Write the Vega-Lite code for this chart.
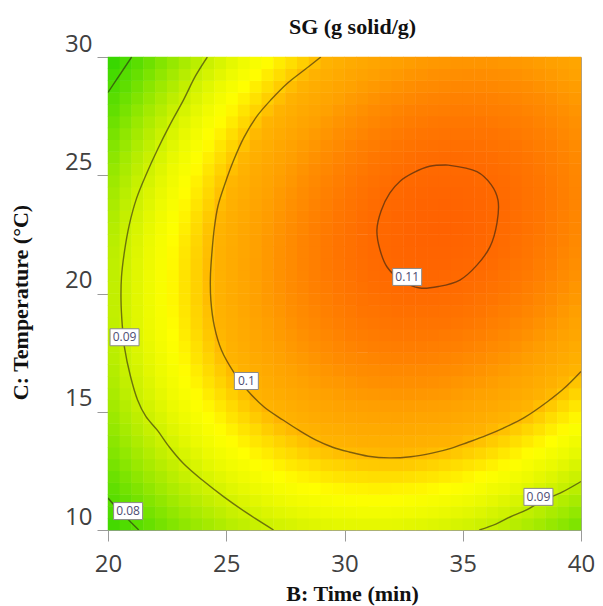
{
"$schema": "https://vega.github.io/schema/vega-lite/v6.json",
"width": 473, "height": 473,
"autosize": "none",
"padding": {"left": 108, "top": 57, "right": 22, "bottom": 76},
"background": "white",
"config": {"view": {"stroke": "#a0a0a0", "strokeWidth": 1}, "axis": {"grid": false}},
"title": {"text": "SG (g solid/g)", "font": "Liberation Serif", "fontSize": 22, "fontWeight": "bold", "color": "#111111", "baseline": "alphabetic", "offset": 0, "dx": 8, "dy": 24},
"datasets": {
"grid": [
{"time":20.25,"temp":10.25,"sg":0.0788},{"time":20.75,"temp":10.25,"sg":0.0800},{"time":21.25,"temp":10.25,"sg":0.0812},{"time":21.75,"temp":10.25,"sg":0.0824},{"time":22.25,"temp":10.25,"sg":0.0835},{"time":22.75,"temp":10.25,"sg":0.0845},{"time":23.25,"temp":10.25,"sg":0.0855},{"time":23.75,"temp":10.25,"sg":0.0864},{"time":24.25,"temp":10.25,"sg":0.0872},{"time":24.75,"temp":10.25,"sg":0.0880},{"time":25.25,"temp":10.25,"sg":0.0888},{"time":25.75,"temp":10.25,"sg":0.0894},{"time":26.25,"temp":10.25,"sg":0.0900},{"time":26.75,"temp":10.25,"sg":0.0906},{"time":27.25,"temp":10.25,"sg":0.0911},{"time":27.75,"temp":10.25,"sg":0.0915},{"time":28.25,"temp":10.25,"sg":0.0919},{"time":28.75,"temp":10.25,"sg":0.0922},{"time":29.25,"temp":10.25,"sg":0.0925},{"time":29.75,"temp":10.25,"sg":0.0927},{"time":30.25,"temp":10.25,"sg":0.0928},{"time":30.75,"temp":10.25,"sg":0.0929},{"time":31.25,"temp":10.25,"sg":0.0929},{"time":31.75,"temp":10.25,"sg":0.0929},{"time":32.25,"temp":10.25,"sg":0.0928},{"time":32.75,"temp":10.25,"sg":0.0926},{"time":33.25,"temp":10.25,"sg":0.0924},{"time":33.75,"temp":10.25,"sg":0.0921},{"time":34.25,"temp":10.25,"sg":0.0918},{"time":34.75,"temp":10.25,"sg":0.0914},{"time":35.25,"temp":10.25,"sg":0.0910},{"time":35.75,"temp":10.25,"sg":0.0905},{"time":36.25,"temp":10.25,"sg":0.0899},{"time":36.75,"temp":10.25,"sg":0.0893},{"time":37.25,"temp":10.25,"sg":0.0886},{"time":37.75,"temp":10.25,"sg":0.0878},{"time":38.25,"temp":10.25,"sg":0.0870},{"time":38.75,"temp":10.25,"sg":0.0861},{"time":39.25,"temp":10.25,"sg":0.0852},{"time":39.75,"temp":10.25,"sg":0.0842},
{"time":20.25,"temp":10.75,"sg":0.0799},{"time":20.75,"temp":10.75,"sg":0.0812},{"time":21.25,"temp":10.75,"sg":0.0824},{"time":21.75,"temp":10.75,"sg":0.0835},{"time":22.25,"temp":10.75,"sg":0.0846},{"time":22.75,"temp":10.75,"sg":0.0857},{"time":23.25,"temp":10.75,"sg":0.0867},{"time":23.75,"temp":10.75,"sg":0.0876},{"time":24.25,"temp":10.75,"sg":0.0884},{"time":24.75,"temp":10.75,"sg":0.0892},{"time":25.25,"temp":10.75,"sg":0.0900},{"time":25.75,"temp":10.75,"sg":0.0907},{"time":26.25,"temp":10.75,"sg":0.0913},{"time":26.75,"temp":10.75,"sg":0.0919},{"time":27.25,"temp":10.75,"sg":0.0924},{"time":27.75,"temp":10.75,"sg":0.0928},{"time":28.25,"temp":10.75,"sg":0.0932},{"time":28.75,"temp":10.75,"sg":0.0935},{"time":29.25,"temp":10.75,"sg":0.0938},{"time":29.75,"temp":10.75,"sg":0.0940},{"time":30.25,"temp":10.75,"sg":0.0942},{"time":30.75,"temp":10.75,"sg":0.0943},{"time":31.25,"temp":10.75,"sg":0.0943},{"time":31.75,"temp":10.75,"sg":0.0943},{"time":32.25,"temp":10.75,"sg":0.0942},{"time":32.75,"temp":10.75,"sg":0.0941},{"time":33.25,"temp":10.75,"sg":0.0939},{"time":33.75,"temp":10.75,"sg":0.0936},{"time":34.25,"temp":10.75,"sg":0.0933},{"time":34.75,"temp":10.75,"sg":0.0929},{"time":35.25,"temp":10.75,"sg":0.0925},{"time":35.75,"temp":10.75,"sg":0.0920},{"time":36.25,"temp":10.75,"sg":0.0914},{"time":36.75,"temp":10.75,"sg":0.0908},{"time":37.25,"temp":10.75,"sg":0.0901},{"time":37.75,"temp":10.75,"sg":0.0894},{"time":38.25,"temp":10.75,"sg":0.0886},{"time":38.75,"temp":10.75,"sg":0.0877},{"time":39.25,"temp":10.75,"sg":0.0868},{"time":39.75,"temp":10.75,"sg":0.0858},
{"time":20.25,"temp":11.25,"sg":0.0809},{"time":20.75,"temp":11.25,"sg":0.0822},{"time":21.25,"temp":11.25,"sg":0.0834},{"time":21.75,"temp":11.25,"sg":0.0846},{"time":22.25,"temp":11.25,"sg":0.0857},{"time":22.75,"temp":11.25,"sg":0.0868},{"time":23.25,"temp":11.25,"sg":0.0878},{"time":23.75,"temp":11.25,"sg":0.0887},{"time":24.25,"temp":11.25,"sg":0.0896},{"time":24.75,"temp":11.25,"sg":0.0904},{"time":25.25,"temp":11.25,"sg":0.0912},{"time":25.75,"temp":11.25,"sg":0.0919},{"time":26.25,"temp":11.25,"sg":0.0925},{"time":26.75,"temp":11.25,"sg":0.0931},{"time":27.25,"temp":11.25,"sg":0.0936},{"time":27.75,"temp":11.25,"sg":0.0941},{"time":28.25,"temp":11.25,"sg":0.0945},{"time":28.75,"temp":11.25,"sg":0.0948},{"time":29.25,"temp":11.25,"sg":0.0951},{"time":29.75,"temp":11.25,"sg":0.0953},{"time":30.25,"temp":11.25,"sg":0.0955},{"time":30.75,"temp":11.25,"sg":0.0956},{"time":31.25,"temp":11.25,"sg":0.0956},{"time":31.75,"temp":11.25,"sg":0.0956},{"time":32.25,"temp":11.25,"sg":0.0956},{"time":32.75,"temp":11.25,"sg":0.0954},{"time":33.25,"temp":11.25,"sg":0.0952},{"time":33.75,"temp":11.25,"sg":0.0950},{"time":34.25,"temp":11.25,"sg":0.0947},{"time":34.75,"temp":11.25,"sg":0.0943},{"time":35.25,"temp":11.25,"sg":0.0939},{"time":35.75,"temp":11.25,"sg":0.0934},{"time":36.25,"temp":11.25,"sg":0.0929},{"time":36.75,"temp":11.25,"sg":0.0922},{"time":37.25,"temp":11.25,"sg":0.0916},{"time":37.75,"temp":11.25,"sg":0.0909},{"time":38.25,"temp":11.25,"sg":0.0901},{"time":38.75,"temp":11.25,"sg":0.0892},{"time":39.25,"temp":11.25,"sg":0.0883},{"time":39.75,"temp":11.25,"sg":0.0874},
{"time":20.25,"temp":11.75,"sg":0.0819},{"time":20.75,"temp":11.75,"sg":0.0832},{"time":21.25,"temp":11.75,"sg":0.0844},{"time":21.75,"temp":11.75,"sg":0.0856},{"time":22.25,"temp":11.75,"sg":0.0868},{"time":22.75,"temp":11.75,"sg":0.0878},{"time":23.25,"temp":11.75,"sg":0.0888},{"time":23.75,"temp":11.75,"sg":0.0898},{"time":24.25,"temp":11.75,"sg":0.0907},{"time":24.75,"temp":11.75,"sg":0.0915},{"time":25.25,"temp":11.75,"sg":0.0923},{"time":25.75,"temp":11.75,"sg":0.0930},{"time":26.25,"temp":11.75,"sg":0.0936},{"time":26.75,"temp":11.75,"sg":0.0942},{"time":27.25,"temp":11.75,"sg":0.0948},{"time":27.75,"temp":11.75,"sg":0.0952},{"time":28.25,"temp":11.75,"sg":0.0957},{"time":28.75,"temp":11.75,"sg":0.0960},{"time":29.25,"temp":11.75,"sg":0.0963},{"time":29.75,"temp":11.75,"sg":0.0965},{"time":30.25,"temp":11.75,"sg":0.0967},{"time":30.75,"temp":11.75,"sg":0.0968},{"time":31.25,"temp":11.75,"sg":0.0969},{"time":31.75,"temp":11.75,"sg":0.0969},{"time":32.25,"temp":11.75,"sg":0.0968},{"time":32.75,"temp":11.75,"sg":0.0967},{"time":33.25,"temp":11.75,"sg":0.0966},{"time":33.75,"temp":11.75,"sg":0.0963},{"time":34.25,"temp":11.75,"sg":0.0960},{"time":34.75,"temp":11.75,"sg":0.0957},{"time":35.25,"temp":11.75,"sg":0.0953},{"time":35.75,"temp":11.75,"sg":0.0948},{"time":36.25,"temp":11.75,"sg":0.0942},{"time":36.75,"temp":11.75,"sg":0.0937},{"time":37.25,"temp":11.75,"sg":0.0930},{"time":37.75,"temp":11.75,"sg":0.0923},{"time":38.25,"temp":11.75,"sg":0.0915},{"time":38.75,"temp":11.75,"sg":0.0907},{"time":39.25,"temp":11.75,"sg":0.0898},{"time":39.75,"temp":11.75,"sg":0.0889},
{"time":20.25,"temp":12.25,"sg":0.0828},{"time":20.75,"temp":12.25,"sg":0.0841},{"time":21.25,"temp":12.25,"sg":0.0854},{"time":21.75,"temp":12.25,"sg":0.0866},{"time":22.25,"temp":12.25,"sg":0.0877},{"time":22.75,"temp":12.25,"sg":0.0888},{"time":23.25,"temp":12.25,"sg":0.0898},{"time":23.75,"temp":12.25,"sg":0.0908},{"time":24.25,"temp":12.25,"sg":0.0917},{"time":24.75,"temp":12.25,"sg":0.0925},{"time":25.25,"temp":12.25,"sg":0.0933},{"time":25.75,"temp":12.25,"sg":0.0940},{"time":26.25,"temp":12.25,"sg":0.0947},{"time":26.75,"temp":12.25,"sg":0.0953},{"time":27.25,"temp":12.25,"sg":0.0959},{"time":27.75,"temp":12.25,"sg":0.0964},{"time":28.25,"temp":12.25,"sg":0.0968},{"time":28.75,"temp":12.25,"sg":0.0971},{"time":29.25,"temp":12.25,"sg":0.0975},{"time":29.75,"temp":12.25,"sg":0.0977},{"time":30.25,"temp":12.25,"sg":0.0979},{"time":30.75,"temp":12.25,"sg":0.0980},{"time":31.25,"temp":12.25,"sg":0.0981},{"time":31.75,"temp":12.25,"sg":0.0981},{"time":32.25,"temp":12.25,"sg":0.0981},{"time":32.75,"temp":12.25,"sg":0.0980},{"time":33.25,"temp":12.25,"sg":0.0978},{"time":33.75,"temp":12.25,"sg":0.0976},{"time":34.25,"temp":12.25,"sg":0.0973},{"time":34.75,"temp":12.25,"sg":0.0970},{"time":35.25,"temp":12.25,"sg":0.0966},{"time":35.75,"temp":12.25,"sg":0.0961},{"time":36.25,"temp":12.25,"sg":0.0956},{"time":36.75,"temp":12.25,"sg":0.0950},{"time":37.25,"temp":12.25,"sg":0.0944},{"time":37.75,"temp":12.25,"sg":0.0937},{"time":38.25,"temp":12.25,"sg":0.0929},{"time":38.75,"temp":12.25,"sg":0.0921},{"time":39.25,"temp":12.25,"sg":0.0912},{"time":39.75,"temp":12.25,"sg":0.0903},
{"time":20.25,"temp":12.75,"sg":0.0837},{"time":20.75,"temp":12.75,"sg":0.0850},{"time":21.25,"temp":12.75,"sg":0.0863},{"time":21.75,"temp":12.75,"sg":0.0875},{"time":22.25,"temp":12.75,"sg":0.0886},{"time":22.75,"temp":12.75,"sg":0.0897},{"time":23.25,"temp":12.75,"sg":0.0908},{"time":23.75,"temp":12.75,"sg":0.0917},{"time":24.25,"temp":12.75,"sg":0.0927},{"time":24.75,"temp":12.75,"sg":0.0935},{"time":25.25,"temp":12.75,"sg":0.0943},{"time":25.75,"temp":12.75,"sg":0.0950},{"time":26.25,"temp":12.75,"sg":0.0957},{"time":26.75,"temp":12.75,"sg":0.0963},{"time":27.25,"temp":12.75,"sg":0.0969},{"time":27.75,"temp":12.75,"sg":0.0974},{"time":28.25,"temp":12.75,"sg":0.0978},{"time":28.75,"temp":12.75,"sg":0.0982},{"time":29.25,"temp":12.75,"sg":0.0986},{"time":29.75,"temp":12.75,"sg":0.0988},{"time":30.25,"temp":12.75,"sg":0.0990},{"time":30.75,"temp":12.75,"sg":0.0992},{"time":31.25,"temp":12.75,"sg":0.0993},{"time":31.75,"temp":12.75,"sg":0.0993},{"time":32.25,"temp":12.75,"sg":0.0993},{"time":32.75,"temp":12.75,"sg":0.0992},{"time":33.25,"temp":12.75,"sg":0.0990},{"time":33.75,"temp":12.75,"sg":0.0988},{"time":34.25,"temp":12.75,"sg":0.0985},{"time":34.75,"temp":12.75,"sg":0.0982},{"time":35.25,"temp":12.75,"sg":0.0978},{"time":35.75,"temp":12.75,"sg":0.0974},{"time":36.25,"temp":12.75,"sg":0.0969},{"time":36.75,"temp":12.75,"sg":0.0963},{"time":37.25,"temp":12.75,"sg":0.0957},{"time":37.75,"temp":12.75,"sg":0.0950},{"time":38.25,"temp":12.75,"sg":0.0942},{"time":38.75,"temp":12.75,"sg":0.0934},{"time":39.25,"temp":12.75,"sg":0.0926},{"time":39.75,"temp":12.75,"sg":0.0917},
{"time":20.25,"temp":13.25,"sg":0.0845},{"time":20.75,"temp":13.25,"sg":0.0858},{"time":21.25,"temp":13.25,"sg":0.0871},{"time":21.75,"temp":13.25,"sg":0.0883},{"time":22.25,"temp":13.25,"sg":0.0895},{"time":22.75,"temp":13.25,"sg":0.0906},{"time":23.25,"temp":13.25,"sg":0.0916},{"time":23.75,"temp":13.25,"sg":0.0926},{"time":24.25,"temp":13.25,"sg":0.0936},{"time":24.75,"temp":13.25,"sg":0.0944},{"time":25.25,"temp":13.25,"sg":0.0952},{"time":25.75,"temp":13.25,"sg":0.0960},{"time":26.25,"temp":13.25,"sg":0.0967},{"time":26.75,"temp":13.25,"sg":0.0973},{"time":27.25,"temp":13.25,"sg":0.0979},{"time":27.75,"temp":13.25,"sg":0.0984},{"time":28.25,"temp":13.25,"sg":0.0989},{"time":28.75,"temp":13.25,"sg":0.0993},{"time":29.25,"temp":13.25,"sg":0.0996},{"time":29.75,"temp":13.25,"sg":0.0999},{"time":30.25,"temp":13.25,"sg":0.1001},{"time":30.75,"temp":13.25,"sg":0.1002},{"time":31.25,"temp":13.25,"sg":0.1003},{"time":31.75,"temp":13.25,"sg":0.1004},{"time":32.25,"temp":13.25,"sg":0.1004},{"time":32.75,"temp":13.25,"sg":0.1003},{"time":33.25,"temp":13.25,"sg":0.1002},{"time":33.75,"temp":13.25,"sg":0.1000},{"time":34.25,"temp":13.25,"sg":0.0997},{"time":34.75,"temp":13.25,"sg":0.0994},{"time":35.25,"temp":13.25,"sg":0.0990},{"time":35.75,"temp":13.25,"sg":0.0986},{"time":36.25,"temp":13.25,"sg":0.0981},{"time":36.75,"temp":13.25,"sg":0.0975},{"time":37.25,"temp":13.25,"sg":0.0969},{"time":37.75,"temp":13.25,"sg":0.0962},{"time":38.25,"temp":13.25,"sg":0.0955},{"time":38.75,"temp":13.25,"sg":0.0947},{"time":39.25,"temp":13.25,"sg":0.0939},{"time":39.75,"temp":13.25,"sg":0.0930},
{"time":20.25,"temp":13.75,"sg":0.0852},{"time":20.75,"temp":13.75,"sg":0.0866},{"time":21.25,"temp":13.75,"sg":0.0879},{"time":21.75,"temp":13.75,"sg":0.0891},{"time":22.25,"temp":13.75,"sg":0.0903},{"time":22.75,"temp":13.75,"sg":0.0914},{"time":23.25,"temp":13.75,"sg":0.0925},{"time":23.75,"temp":13.75,"sg":0.0935},{"time":24.25,"temp":13.75,"sg":0.0944},{"time":24.75,"temp":13.75,"sg":0.0953},{"time":25.25,"temp":13.75,"sg":0.0961},{"time":25.75,"temp":13.75,"sg":0.0969},{"time":26.25,"temp":13.75,"sg":0.0976},{"time":26.75,"temp":13.75,"sg":0.0982},{"time":27.25,"temp":13.75,"sg":0.0988},{"time":27.75,"temp":13.75,"sg":0.0993},{"time":28.25,"temp":13.75,"sg":0.0998},{"time":28.75,"temp":13.75,"sg":0.1002},{"time":29.25,"temp":13.75,"sg":0.1006},{"time":29.75,"temp":13.75,"sg":0.1009},{"time":30.25,"temp":13.75,"sg":0.1011},{"time":30.75,"temp":13.75,"sg":0.1013},{"time":31.25,"temp":13.75,"sg":0.1014},{"time":31.75,"temp":13.75,"sg":0.1014},{"time":32.25,"temp":13.75,"sg":0.1014},{"time":32.75,"temp":13.75,"sg":0.1014},{"time":33.25,"temp":13.75,"sg":0.1012},{"time":33.75,"temp":13.75,"sg":0.1010},{"time":34.25,"temp":13.75,"sg":0.1008},{"time":34.75,"temp":13.75,"sg":0.1005},{"time":35.25,"temp":13.75,"sg":0.1001},{"time":35.75,"temp":13.75,"sg":0.0997},{"time":36.25,"temp":13.75,"sg":0.0992},{"time":36.75,"temp":13.75,"sg":0.0987},{"time":37.25,"temp":13.75,"sg":0.0981},{"time":37.75,"temp":13.75,"sg":0.0974},{"time":38.25,"temp":13.75,"sg":0.0967},{"time":38.75,"temp":13.75,"sg":0.0960},{"time":39.25,"temp":13.75,"sg":0.0951},{"time":39.75,"temp":13.75,"sg":0.0942},
{"time":20.25,"temp":14.25,"sg":0.0859},{"time":20.75,"temp":14.25,"sg":0.0873},{"time":21.25,"temp":14.25,"sg":0.0886},{"time":21.75,"temp":14.25,"sg":0.0898},{"time":22.25,"temp":14.25,"sg":0.0910},{"time":22.75,"temp":14.25,"sg":0.0922},{"time":23.25,"temp":14.25,"sg":0.0932},{"time":23.75,"temp":14.25,"sg":0.0942},{"time":24.25,"temp":14.25,"sg":0.0952},{"time":24.75,"temp":14.25,"sg":0.0961},{"time":25.25,"temp":14.25,"sg":0.0969},{"time":25.75,"temp":14.25,"sg":0.0977},{"time":26.25,"temp":14.25,"sg":0.0984},{"time":26.75,"temp":14.25,"sg":0.0991},{"time":27.25,"temp":14.25,"sg":0.0997},{"time":27.75,"temp":14.25,"sg":0.1002},{"time":28.25,"temp":14.25,"sg":0.1007},{"time":28.75,"temp":14.25,"sg":0.1011},{"time":29.25,"temp":14.25,"sg":0.1015},{"time":29.75,"temp":14.25,"sg":0.1018},{"time":30.25,"temp":14.25,"sg":0.1020},{"time":30.75,"temp":14.25,"sg":0.1022},{"time":31.25,"temp":14.25,"sg":0.1023},{"time":31.75,"temp":14.25,"sg":0.1024},{"time":32.25,"temp":14.25,"sg":0.1024},{"time":32.75,"temp":14.25,"sg":0.1024},{"time":33.25,"temp":14.25,"sg":0.1023},{"time":33.75,"temp":14.25,"sg":0.1021},{"time":34.25,"temp":14.25,"sg":0.1019},{"time":34.75,"temp":14.25,"sg":0.1016},{"time":35.25,"temp":14.25,"sg":0.1012},{"time":35.75,"temp":14.25,"sg":0.1008},{"time":36.25,"temp":14.25,"sg":0.1003},{"time":36.75,"temp":14.25,"sg":0.0998},{"time":37.25,"temp":14.25,"sg":0.0992},{"time":37.75,"temp":14.25,"sg":0.0986},{"time":38.25,"temp":14.25,"sg":0.0979},{"time":38.75,"temp":14.25,"sg":0.0971},{"time":39.25,"temp":14.25,"sg":0.0963},{"time":39.75,"temp":14.25,"sg":0.0954},
{"time":20.25,"temp":14.75,"sg":0.0865},{"time":20.75,"temp":14.75,"sg":0.0879},{"time":21.25,"temp":14.75,"sg":0.0892},{"time":21.75,"temp":14.75,"sg":0.0905},{"time":22.25,"temp":14.75,"sg":0.0917},{"time":22.75,"temp":14.75,"sg":0.0929},{"time":23.25,"temp":14.75,"sg":0.0939},{"time":23.75,"temp":14.75,"sg":0.0950},{"time":24.25,"temp":14.75,"sg":0.0959},{"time":24.75,"temp":14.75,"sg":0.0968},{"time":25.25,"temp":14.75,"sg":0.0977},{"time":25.75,"temp":14.75,"sg":0.0985},{"time":26.25,"temp":14.75,"sg":0.0992},{"time":26.75,"temp":14.75,"sg":0.0999},{"time":27.25,"temp":14.75,"sg":0.1005},{"time":27.75,"temp":14.75,"sg":0.1011},{"time":28.25,"temp":14.75,"sg":0.1015},{"time":28.75,"temp":14.75,"sg":0.1020},{"time":29.25,"temp":14.75,"sg":0.1024},{"time":29.75,"temp":14.75,"sg":0.1027},{"time":30.25,"temp":14.75,"sg":0.1029},{"time":30.75,"temp":14.75,"sg":0.1031},{"time":31.25,"temp":14.75,"sg":0.1033},{"time":31.75,"temp":14.75,"sg":0.1033},{"time":32.25,"temp":14.75,"sg":0.1034},{"time":32.75,"temp":14.75,"sg":0.1033},{"time":33.25,"temp":14.75,"sg":0.1032},{"time":33.75,"temp":14.75,"sg":0.1031},{"time":34.25,"temp":14.75,"sg":0.1029},{"time":34.75,"temp":14.75,"sg":0.1026},{"time":35.25,"temp":14.75,"sg":0.1022},{"time":35.75,"temp":14.75,"sg":0.1019},{"time":36.25,"temp":14.75,"sg":0.1014},{"time":36.75,"temp":14.75,"sg":0.1009},{"time":37.25,"temp":14.75,"sg":0.1003},{"time":37.75,"temp":14.75,"sg":0.0997},{"time":38.25,"temp":14.75,"sg":0.0990},{"time":38.75,"temp":14.75,"sg":0.0982},{"time":39.25,"temp":14.75,"sg":0.0974},{"time":39.75,"temp":14.75,"sg":0.0966},
{"time":20.25,"temp":15.25,"sg":0.0871},{"time":20.75,"temp":15.25,"sg":0.0885},{"time":21.25,"temp":15.25,"sg":0.0898},{"time":21.75,"temp":15.25,"sg":0.0911},{"time":22.25,"temp":15.25,"sg":0.0923},{"time":22.75,"temp":15.25,"sg":0.0935},{"time":23.25,"temp":15.25,"sg":0.0946},{"time":23.75,"temp":15.25,"sg":0.0956},{"time":24.25,"temp":15.25,"sg":0.0966},{"time":24.75,"temp":15.25,"sg":0.0975},{"time":25.25,"temp":15.25,"sg":0.0984},{"time":25.75,"temp":15.25,"sg":0.0992},{"time":26.25,"temp":15.25,"sg":0.0999},{"time":26.75,"temp":15.25,"sg":0.1006},{"time":27.25,"temp":15.25,"sg":0.1012},{"time":27.75,"temp":15.25,"sg":0.1018},{"time":28.25,"temp":15.25,"sg":0.1023},{"time":28.75,"temp":15.25,"sg":0.1028},{"time":29.25,"temp":15.25,"sg":0.1032},{"time":29.75,"temp":15.25,"sg":0.1035},{"time":30.25,"temp":15.25,"sg":0.1038},{"time":30.75,"temp":15.25,"sg":0.1040},{"time":31.25,"temp":15.25,"sg":0.1041},{"time":31.75,"temp":15.25,"sg":0.1042},{"time":32.25,"temp":15.25,"sg":0.1042},{"time":32.75,"temp":15.25,"sg":0.1042},{"time":33.25,"temp":15.25,"sg":0.1041},{"time":33.75,"temp":15.25,"sg":0.1040},{"time":34.25,"temp":15.25,"sg":0.1038},{"time":34.75,"temp":15.25,"sg":0.1035},{"time":35.25,"temp":15.25,"sg":0.1032},{"time":35.75,"temp":15.25,"sg":0.1028},{"time":36.25,"temp":15.25,"sg":0.1024},{"time":36.75,"temp":15.25,"sg":0.1019},{"time":37.25,"temp":15.25,"sg":0.1013},{"time":37.75,"temp":15.25,"sg":0.1007},{"time":38.25,"temp":15.25,"sg":0.1000},{"time":38.75,"temp":15.25,"sg":0.0993},{"time":39.25,"temp":15.25,"sg":0.0985},{"time":39.75,"temp":15.25,"sg":0.0976},
{"time":20.25,"temp":15.75,"sg":0.0876},{"time":20.75,"temp":15.75,"sg":0.0890},{"time":21.25,"temp":15.75,"sg":0.0904},{"time":21.75,"temp":15.75,"sg":0.0917},{"time":22.25,"temp":15.75,"sg":0.0929},{"time":22.75,"temp":15.75,"sg":0.0941},{"time":23.25,"temp":15.75,"sg":0.0952},{"time":23.75,"temp":15.75,"sg":0.0962},{"time":24.25,"temp":15.75,"sg":0.0972},{"time":24.75,"temp":15.75,"sg":0.0981},{"time":25.25,"temp":15.75,"sg":0.0990},{"time":25.75,"temp":15.75,"sg":0.0998},{"time":26.25,"temp":15.75,"sg":0.1006},{"time":26.75,"temp":15.75,"sg":0.1013},{"time":27.25,"temp":15.75,"sg":0.1019},{"time":27.75,"temp":15.75,"sg":0.1025},{"time":28.25,"temp":15.75,"sg":0.1030},{"time":28.75,"temp":15.75,"sg":0.1035},{"time":29.25,"temp":15.75,"sg":0.1039},{"time":29.75,"temp":15.75,"sg":0.1042},{"time":30.25,"temp":15.75,"sg":0.1045},{"time":30.75,"temp":15.75,"sg":0.1048},{"time":31.25,"temp":15.75,"sg":0.1049},{"time":31.75,"temp":15.75,"sg":0.1050},{"time":32.25,"temp":15.75,"sg":0.1051},{"time":32.75,"temp":15.75,"sg":0.1051},{"time":33.25,"temp":15.75,"sg":0.1050},{"time":33.75,"temp":15.75,"sg":0.1049},{"time":34.25,"temp":15.75,"sg":0.1047},{"time":34.75,"temp":15.75,"sg":0.1044},{"time":35.25,"temp":15.75,"sg":0.1041},{"time":35.75,"temp":15.75,"sg":0.1037},{"time":36.25,"temp":15.75,"sg":0.1033},{"time":36.75,"temp":15.75,"sg":0.1028},{"time":37.25,"temp":15.75,"sg":0.1023},{"time":37.75,"temp":15.75,"sg":0.1017},{"time":38.25,"temp":15.75,"sg":0.1010},{"time":38.75,"temp":15.75,"sg":0.1003},{"time":39.25,"temp":15.75,"sg":0.0995},{"time":39.75,"temp":15.75,"sg":0.0987},
{"time":20.25,"temp":16.25,"sg":0.0881},{"time":20.75,"temp":16.25,"sg":0.0895},{"time":21.25,"temp":16.25,"sg":0.0908},{"time":21.75,"temp":16.25,"sg":0.0921},{"time":22.25,"temp":16.25,"sg":0.0934},{"time":22.75,"temp":16.25,"sg":0.0946},{"time":23.25,"temp":16.25,"sg":0.0957},{"time":23.75,"temp":16.25,"sg":0.0968},{"time":24.25,"temp":16.25,"sg":0.0978},{"time":24.75,"temp":16.25,"sg":0.0987},{"time":25.25,"temp":16.25,"sg":0.0996},{"time":25.75,"temp":16.25,"sg":0.1004},{"time":26.25,"temp":16.25,"sg":0.1012},{"time":26.75,"temp":16.25,"sg":0.1019},{"time":27.25,"temp":16.25,"sg":0.1026},{"time":27.75,"temp":16.25,"sg":0.1032},{"time":28.25,"temp":16.25,"sg":0.1037},{"time":28.75,"temp":16.25,"sg":0.1042},{"time":29.25,"temp":16.25,"sg":0.1046},{"time":29.75,"temp":16.25,"sg":0.1049},{"time":30.25,"temp":16.25,"sg":0.1052},{"time":30.75,"temp":16.25,"sg":0.1055},{"time":31.25,"temp":16.25,"sg":0.1057},{"time":31.75,"temp":16.25,"sg":0.1058},{"time":32.25,"temp":16.25,"sg":0.1058},{"time":32.75,"temp":16.25,"sg":0.1058},{"time":33.25,"temp":16.25,"sg":0.1058},{"time":33.75,"temp":16.25,"sg":0.1057},{"time":34.25,"temp":16.25,"sg":0.1055},{"time":34.75,"temp":16.25,"sg":0.1052},{"time":35.25,"temp":16.25,"sg":0.1049},{"time":35.75,"temp":16.25,"sg":0.1046},{"time":36.25,"temp":16.25,"sg":0.1042},{"time":36.75,"temp":16.25,"sg":0.1037},{"time":37.25,"temp":16.25,"sg":0.1032},{"time":37.75,"temp":16.25,"sg":0.1026},{"time":38.25,"temp":16.25,"sg":0.1019},{"time":38.75,"temp":16.25,"sg":0.1012},{"time":39.25,"temp":16.25,"sg":0.1004},{"time":39.75,"temp":16.25,"sg":0.0996},
{"time":20.25,"temp":16.75,"sg":0.0884},{"time":20.75,"temp":16.75,"sg":0.0899},{"time":21.25,"temp":16.75,"sg":0.0912},{"time":21.75,"temp":16.75,"sg":0.0926},{"time":22.25,"temp":16.75,"sg":0.0938},{"time":22.75,"temp":16.75,"sg":0.0950},{"time":23.25,"temp":16.75,"sg":0.0962},{"time":23.75,"temp":16.75,"sg":0.0972},{"time":24.25,"temp":16.75,"sg":0.0983},{"time":24.75,"temp":16.75,"sg":0.0992},{"time":25.25,"temp":16.75,"sg":0.1001},{"time":25.75,"temp":16.75,"sg":0.1010},{"time":26.25,"temp":16.75,"sg":0.1017},{"time":26.75,"temp":16.75,"sg":0.1025},{"time":27.25,"temp":16.75,"sg":0.1031},{"time":27.75,"temp":16.75,"sg":0.1037},{"time":28.25,"temp":16.75,"sg":0.1043},{"time":28.75,"temp":16.75,"sg":0.1048},{"time":29.25,"temp":16.75,"sg":0.1052},{"time":29.75,"temp":16.75,"sg":0.1056},{"time":30.25,"temp":16.75,"sg":0.1059},{"time":30.75,"temp":16.75,"sg":0.1061},{"time":31.25,"temp":16.75,"sg":0.1063},{"time":31.75,"temp":16.75,"sg":0.1065},{"time":32.25,"temp":16.75,"sg":0.1065},{"time":32.75,"temp":16.75,"sg":0.1065},{"time":33.25,"temp":16.75,"sg":0.1065},{"time":33.75,"temp":16.75,"sg":0.1064},{"time":34.25,"temp":16.75,"sg":0.1062},{"time":34.75,"temp":16.75,"sg":0.1060},{"time":35.25,"temp":16.75,"sg":0.1057},{"time":35.75,"temp":16.75,"sg":0.1054},{"time":36.25,"temp":16.75,"sg":0.1050},{"time":36.75,"temp":16.75,"sg":0.1045},{"time":37.25,"temp":16.75,"sg":0.1040},{"time":37.75,"temp":16.75,"sg":0.1034},{"time":38.25,"temp":16.75,"sg":0.1028},{"time":38.75,"temp":16.75,"sg":0.1021},{"time":39.25,"temp":16.75,"sg":0.1013},{"time":39.75,"temp":16.75,"sg":0.1005},
{"time":20.25,"temp":17.25,"sg":0.0888},{"time":20.75,"temp":17.25,"sg":0.0902},{"time":21.25,"temp":17.25,"sg":0.0916},{"time":21.75,"temp":17.25,"sg":0.0929},{"time":22.25,"temp":17.25,"sg":0.0942},{"time":22.75,"temp":17.25,"sg":0.0954},{"time":23.25,"temp":17.25,"sg":0.0966},{"time":23.75,"temp":17.25,"sg":0.0977},{"time":24.25,"temp":17.25,"sg":0.0987},{"time":24.75,"temp":17.25,"sg":0.0997},{"time":25.25,"temp":17.25,"sg":0.1006},{"time":25.75,"temp":17.25,"sg":0.1014},{"time":26.25,"temp":17.25,"sg":0.1022},{"time":26.75,"temp":17.25,"sg":0.1030},{"time":27.25,"temp":17.25,"sg":0.1037},{"time":27.75,"temp":17.25,"sg":0.1043},{"time":28.25,"temp":17.25,"sg":0.1048},{"time":28.75,"temp":17.25,"sg":0.1053},{"time":29.25,"temp":17.25,"sg":0.1058},{"time":29.75,"temp":17.25,"sg":0.1062},{"time":30.25,"temp":17.25,"sg":0.1065},{"time":30.75,"temp":17.25,"sg":0.1067},{"time":31.25,"temp":17.25,"sg":0.1069},{"time":31.75,"temp":17.25,"sg":0.1071},{"time":32.25,"temp":17.25,"sg":0.1072},{"time":32.75,"temp":17.25,"sg":0.1072},{"time":33.25,"temp":17.25,"sg":0.1072},{"time":33.75,"temp":17.25,"sg":0.1071},{"time":34.25,"temp":17.25,"sg":0.1069},{"time":34.75,"temp":17.25,"sg":0.1067},{"time":35.25,"temp":17.25,"sg":0.1064},{"time":35.75,"temp":17.25,"sg":0.1061},{"time":36.25,"temp":17.25,"sg":0.1057},{"time":36.75,"temp":17.25,"sg":0.1053},{"time":37.25,"temp":17.25,"sg":0.1048},{"time":37.75,"temp":17.25,"sg":0.1042},{"time":38.25,"temp":17.25,"sg":0.1036},{"time":38.75,"temp":17.25,"sg":0.1029},{"time":39.25,"temp":17.25,"sg":0.1022},{"time":39.75,"temp":17.25,"sg":0.1014},
{"time":20.25,"temp":17.75,"sg":0.0890},{"time":20.75,"temp":17.75,"sg":0.0905},{"time":21.25,"temp":17.75,"sg":0.0919},{"time":21.75,"temp":17.75,"sg":0.0932},{"time":22.25,"temp":17.75,"sg":0.0945},{"time":22.75,"temp":17.75,"sg":0.0957},{"time":23.25,"temp":17.75,"sg":0.0969},{"time":23.75,"temp":17.75,"sg":0.0980},{"time":24.25,"temp":17.75,"sg":0.0991},{"time":24.75,"temp":17.75,"sg":0.1001},{"time":25.25,"temp":17.75,"sg":0.1010},{"time":25.75,"temp":17.75,"sg":0.1019},{"time":26.25,"temp":17.75,"sg":0.1027},{"time":26.75,"temp":17.75,"sg":0.1034},{"time":27.25,"temp":17.75,"sg":0.1041},{"time":27.75,"temp":17.75,"sg":0.1047},{"time":28.25,"temp":17.75,"sg":0.1053},{"time":28.75,"temp":17.75,"sg":0.1058},{"time":29.25,"temp":17.75,"sg":0.1063},{"time":29.75,"temp":17.75,"sg":0.1067},{"time":30.25,"temp":17.75,"sg":0.1070},{"time":30.75,"temp":17.75,"sg":0.1073},{"time":31.25,"temp":17.75,"sg":0.1075},{"time":31.75,"temp":17.75,"sg":0.1077},{"time":32.25,"temp":17.75,"sg":0.1078},{"time":32.75,"temp":17.75,"sg":0.1078},{"time":33.25,"temp":17.75,"sg":0.1078},{"time":33.75,"temp":17.75,"sg":0.1077},{"time":34.25,"temp":17.75,"sg":0.1076},{"time":34.75,"temp":17.75,"sg":0.1074},{"time":35.25,"temp":17.75,"sg":0.1071},{"time":35.75,"temp":17.75,"sg":0.1068},{"time":36.25,"temp":17.75,"sg":0.1064},{"time":36.75,"temp":17.75,"sg":0.1060},{"time":37.25,"temp":17.75,"sg":0.1055},{"time":37.75,"temp":17.75,"sg":0.1049},{"time":38.25,"temp":17.75,"sg":0.1043},{"time":38.75,"temp":17.75,"sg":0.1037},{"time":39.25,"temp":17.75,"sg":0.1029},{"time":39.75,"temp":17.75,"sg":0.1021},
{"time":20.25,"temp":18.25,"sg":0.0892},{"time":20.75,"temp":18.25,"sg":0.0907},{"time":21.25,"temp":18.25,"sg":0.0921},{"time":21.75,"temp":18.25,"sg":0.0935},{"time":22.25,"temp":18.25,"sg":0.0948},{"time":22.75,"temp":18.25,"sg":0.0960},{"time":23.25,"temp":18.25,"sg":0.0972},{"time":23.75,"temp":18.25,"sg":0.0983},{"time":24.25,"temp":18.25,"sg":0.0994},{"time":24.75,"temp":18.25,"sg":0.1004},{"time":25.25,"temp":18.25,"sg":0.1013},{"time":25.75,"temp":18.25,"sg":0.1022},{"time":26.25,"temp":18.25,"sg":0.1030},{"time":26.75,"temp":18.25,"sg":0.1038},{"time":27.25,"temp":18.25,"sg":0.1045},{"time":27.75,"temp":18.25,"sg":0.1051},{"time":28.25,"temp":18.25,"sg":0.1057},{"time":28.75,"temp":18.25,"sg":0.1063},{"time":29.25,"temp":18.25,"sg":0.1067},{"time":29.75,"temp":18.25,"sg":0.1071},{"time":30.25,"temp":18.25,"sg":0.1075},{"time":30.75,"temp":18.25,"sg":0.1078},{"time":31.25,"temp":18.25,"sg":0.1080},{"time":31.75,"temp":18.25,"sg":0.1082},{"time":32.25,"temp":18.25,"sg":0.1083},{"time":32.75,"temp":18.25,"sg":0.1083},{"time":33.25,"temp":18.25,"sg":0.1083},{"time":33.75,"temp":18.25,"sg":0.1083},{"time":34.25,"temp":18.25,"sg":0.1081},{"time":34.75,"temp":18.25,"sg":0.1080},{"time":35.25,"temp":18.25,"sg":0.1077},{"time":35.75,"temp":18.25,"sg":0.1074},{"time":36.25,"temp":18.25,"sg":0.1070},{"time":36.75,"temp":18.25,"sg":0.1066},{"time":37.25,"temp":18.25,"sg":0.1061},{"time":37.75,"temp":18.25,"sg":0.1056},{"time":38.25,"temp":18.25,"sg":0.1050},{"time":38.75,"temp":18.25,"sg":0.1043},{"time":39.25,"temp":18.25,"sg":0.1036},{"time":39.75,"temp":18.25,"sg":0.1029},
{"time":20.25,"temp":18.75,"sg":0.0894},{"time":20.75,"temp":18.75,"sg":0.0909},{"time":21.25,"temp":18.75,"sg":0.0923},{"time":21.75,"temp":18.75,"sg":0.0937},{"time":22.25,"temp":18.75,"sg":0.0950},{"time":22.75,"temp":18.75,"sg":0.0962},{"time":23.25,"temp":18.75,"sg":0.0974},{"time":23.75,"temp":18.75,"sg":0.0986},{"time":24.25,"temp":18.75,"sg":0.0996},{"time":24.75,"temp":18.75,"sg":0.1006},{"time":25.25,"temp":18.75,"sg":0.1016},{"time":25.75,"temp":18.75,"sg":0.1025},{"time":26.25,"temp":18.75,"sg":0.1033},{"time":26.75,"temp":18.75,"sg":0.1041},{"time":27.25,"temp":18.75,"sg":0.1048},{"time":27.75,"temp":18.75,"sg":0.1055},{"time":28.25,"temp":18.75,"sg":0.1061},{"time":28.75,"temp":18.75,"sg":0.1066},{"time":29.25,"temp":18.75,"sg":0.1071},{"time":29.75,"temp":18.75,"sg":0.1075},{"time":30.25,"temp":18.75,"sg":0.1079},{"time":30.75,"temp":18.75,"sg":0.1082},{"time":31.25,"temp":18.75,"sg":0.1084},{"time":31.75,"temp":18.75,"sg":0.1086},{"time":32.25,"temp":18.75,"sg":0.1087},{"time":32.75,"temp":18.75,"sg":0.1088},{"time":33.25,"temp":18.75,"sg":0.1088},{"time":33.75,"temp":18.75,"sg":0.1088},{"time":34.25,"temp":18.75,"sg":0.1087},{"time":34.75,"temp":18.75,"sg":0.1085},{"time":35.25,"temp":18.75,"sg":0.1083},{"time":35.75,"temp":18.75,"sg":0.1080},{"time":36.25,"temp":18.75,"sg":0.1076},{"time":36.75,"temp":18.75,"sg":0.1072},{"time":37.25,"temp":18.75,"sg":0.1067},{"time":37.75,"temp":18.75,"sg":0.1062},{"time":38.25,"temp":18.75,"sg":0.1056},{"time":38.75,"temp":18.75,"sg":0.1050},{"time":39.25,"temp":18.75,"sg":0.1043},{"time":39.75,"temp":18.75,"sg":0.1035},
{"time":20.25,"temp":19.25,"sg":0.0895},{"time":20.75,"temp":19.25,"sg":0.0910},{"time":21.25,"temp":19.25,"sg":0.0924},{"time":21.75,"temp":19.25,"sg":0.0938},{"time":22.25,"temp":19.25,"sg":0.0951},{"time":22.75,"temp":19.25,"sg":0.0964},{"time":23.25,"temp":19.25,"sg":0.0976},{"time":23.75,"temp":19.25,"sg":0.0987},{"time":24.25,"temp":19.25,"sg":0.0998},{"time":24.75,"temp":19.25,"sg":0.1009},{"time":25.25,"temp":19.25,"sg":0.1018},{"time":25.75,"temp":19.25,"sg":0.1027},{"time":26.25,"temp":19.25,"sg":0.1036},{"time":26.75,"temp":19.25,"sg":0.1044},{"time":27.25,"temp":19.25,"sg":0.1051},{"time":27.75,"temp":19.25,"sg":0.1058},{"time":28.25,"temp":19.25,"sg":0.1064},{"time":28.75,"temp":19.25,"sg":0.1069},{"time":29.25,"temp":19.25,"sg":0.1074},{"time":29.75,"temp":19.25,"sg":0.1079},{"time":30.25,"temp":19.25,"sg":0.1082},{"time":30.75,"temp":19.25,"sg":0.1086},{"time":31.25,"temp":19.25,"sg":0.1088},{"time":31.75,"temp":19.25,"sg":0.1090},{"time":32.25,"temp":19.25,"sg":0.1092},{"time":32.75,"temp":19.25,"sg":0.1092},{"time":33.25,"temp":19.25,"sg":0.1092},{"time":33.75,"temp":19.25,"sg":0.1092},{"time":34.25,"temp":19.25,"sg":0.1091},{"time":34.75,"temp":19.25,"sg":0.1090},{"time":35.25,"temp":19.25,"sg":0.1087},{"time":35.75,"temp":19.25,"sg":0.1085},{"time":36.25,"temp":19.25,"sg":0.1081},{"time":36.75,"temp":19.25,"sg":0.1077},{"time":37.25,"temp":19.25,"sg":0.1073},{"time":37.75,"temp":19.25,"sg":0.1068},{"time":38.25,"temp":19.25,"sg":0.1062},{"time":38.75,"temp":19.25,"sg":0.1056},{"time":39.25,"temp":19.25,"sg":0.1049},{"time":39.75,"temp":19.25,"sg":0.1041},
{"time":20.25,"temp":19.75,"sg":0.0895},{"time":20.75,"temp":19.75,"sg":0.0910},{"time":21.25,"temp":19.75,"sg":0.0925},{"time":21.75,"temp":19.75,"sg":0.0939},{"time":22.25,"temp":19.75,"sg":0.0952},{"time":22.75,"temp":19.75,"sg":0.0965},{"time":23.25,"temp":19.75,"sg":0.0977},{"time":23.75,"temp":19.75,"sg":0.0989},{"time":24.25,"temp":19.75,"sg":0.1000},{"time":24.75,"temp":19.75,"sg":0.1010},{"time":25.25,"temp":19.75,"sg":0.1020},{"time":25.75,"temp":19.75,"sg":0.1029},{"time":26.25,"temp":19.75,"sg":0.1038},{"time":26.75,"temp":19.75,"sg":0.1046},{"time":27.25,"temp":19.75,"sg":0.1053},{"time":27.75,"temp":19.75,"sg":0.1060},{"time":28.25,"temp":19.75,"sg":0.1066},{"time":28.75,"temp":19.75,"sg":0.1072},{"time":29.25,"temp":19.75,"sg":0.1077},{"time":29.75,"temp":19.75,"sg":0.1082},{"time":30.25,"temp":19.75,"sg":0.1085},{"time":30.75,"temp":19.75,"sg":0.1089},{"time":31.25,"temp":19.75,"sg":0.1091},{"time":31.75,"temp":19.75,"sg":0.1093},{"time":32.25,"temp":19.75,"sg":0.1095},{"time":32.75,"temp":19.75,"sg":0.1096},{"time":33.25,"temp":19.75,"sg":0.1096},{"time":33.75,"temp":19.75,"sg":0.1096},{"time":34.25,"temp":19.75,"sg":0.1095},{"time":34.75,"temp":19.75,"sg":0.1094},{"time":35.25,"temp":19.75,"sg":0.1092},{"time":35.75,"temp":19.75,"sg":0.1089},{"time":36.25,"temp":19.75,"sg":0.1086},{"time":36.75,"temp":19.75,"sg":0.1082},{"time":37.25,"temp":19.75,"sg":0.1078},{"time":37.75,"temp":19.75,"sg":0.1073},{"time":38.25,"temp":19.75,"sg":0.1067},{"time":38.75,"temp":19.75,"sg":0.1061},{"time":39.25,"temp":19.75,"sg":0.1054},{"time":39.75,"temp":19.75,"sg":0.1047},
{"time":20.25,"temp":20.25,"sg":0.0895},{"time":20.75,"temp":20.25,"sg":0.0910},{"time":21.25,"temp":20.25,"sg":0.0925},{"time":21.75,"temp":20.25,"sg":0.0939},{"time":22.25,"temp":20.25,"sg":0.0952},{"time":22.75,"temp":20.25,"sg":0.0965},{"time":23.25,"temp":20.25,"sg":0.0978},{"time":23.75,"temp":20.25,"sg":0.0989},{"time":24.25,"temp":20.25,"sg":0.1000},{"time":24.75,"temp":20.25,"sg":0.1011},{"time":25.25,"temp":20.25,"sg":0.1021},{"time":25.75,"temp":20.25,"sg":0.1030},{"time":26.25,"temp":20.25,"sg":0.1039},{"time":26.75,"temp":20.25,"sg":0.1047},{"time":27.25,"temp":20.25,"sg":0.1055},{"time":27.75,"temp":20.25,"sg":0.1062},{"time":28.25,"temp":20.25,"sg":0.1068},{"time":28.75,"temp":20.25,"sg":0.1074},{"time":29.25,"temp":20.25,"sg":0.1079},{"time":29.75,"temp":20.25,"sg":0.1084},{"time":30.25,"temp":20.25,"sg":0.1088},{"time":30.75,"temp":20.25,"sg":0.1091},{"time":31.25,"temp":20.25,"sg":0.1094},{"time":31.75,"temp":20.25,"sg":0.1096},{"time":32.25,"temp":20.25,"sg":0.1098},{"time":32.75,"temp":20.25,"sg":0.1099},{"time":33.25,"temp":20.25,"sg":0.1099},{"time":33.75,"temp":20.25,"sg":0.1099},{"time":34.25,"temp":20.25,"sg":0.1098},{"time":34.75,"temp":20.25,"sg":0.1097},{"time":35.25,"temp":20.25,"sg":0.1095},{"time":35.75,"temp":20.25,"sg":0.1093},{"time":36.25,"temp":20.25,"sg":0.1090},{"time":36.75,"temp":20.25,"sg":0.1086},{"time":37.25,"temp":20.25,"sg":0.1082},{"time":37.75,"temp":20.25,"sg":0.1077},{"time":38.25,"temp":20.25,"sg":0.1071},{"time":38.75,"temp":20.25,"sg":0.1065},{"time":39.25,"temp":20.25,"sg":0.1059},{"time":39.75,"temp":20.25,"sg":0.1051},
{"time":20.25,"temp":20.75,"sg":0.0894},{"time":20.75,"temp":20.75,"sg":0.0910},{"time":21.25,"temp":20.75,"sg":0.0924},{"time":21.75,"temp":20.75,"sg":0.0939},{"time":22.25,"temp":20.75,"sg":0.0952},{"time":22.75,"temp":20.75,"sg":0.0965},{"time":23.25,"temp":20.75,"sg":0.0978},{"time":23.75,"temp":20.75,"sg":0.0989},{"time":24.25,"temp":20.75,"sg":0.1001},{"time":24.75,"temp":20.75,"sg":0.1011},{"time":25.25,"temp":20.75,"sg":0.1021},{"time":25.75,"temp":20.75,"sg":0.1031},{"time":26.25,"temp":20.75,"sg":0.1040},{"time":26.75,"temp":20.75,"sg":0.1048},{"time":27.25,"temp":20.75,"sg":0.1056},{"time":27.75,"temp":20.75,"sg":0.1063},{"time":28.25,"temp":20.75,"sg":0.1069},{"time":28.75,"temp":20.75,"sg":0.1075},{"time":29.25,"temp":20.75,"sg":0.1081},{"time":29.75,"temp":20.75,"sg":0.1085},{"time":30.25,"temp":20.75,"sg":0.1089},{"time":30.75,"temp":20.75,"sg":0.1093},{"time":31.25,"temp":20.75,"sg":0.1096},{"time":31.75,"temp":20.75,"sg":0.1098},{"time":32.25,"temp":20.75,"sg":0.1100},{"time":32.75,"temp":20.75,"sg":0.1101},{"time":33.25,"temp":20.75,"sg":0.1102},{"time":33.75,"temp":20.75,"sg":0.1102},{"time":34.25,"temp":20.75,"sg":0.1101},{"time":34.75,"temp":20.75,"sg":0.1100},{"time":35.25,"temp":20.75,"sg":0.1098},{"time":35.75,"temp":20.75,"sg":0.1096},{"time":36.25,"temp":20.75,"sg":0.1093},{"time":36.75,"temp":20.75,"sg":0.1089},{"time":37.25,"temp":20.75,"sg":0.1085},{"time":37.75,"temp":20.75,"sg":0.1081},{"time":38.25,"temp":20.75,"sg":0.1075},{"time":38.75,"temp":20.75,"sg":0.1069},{"time":39.25,"temp":20.75,"sg":0.1063},{"time":39.75,"temp":20.75,"sg":0.1056},
{"time":20.25,"temp":21.25,"sg":0.0893},{"time":20.75,"temp":21.25,"sg":0.0908},{"time":21.25,"temp":21.25,"sg":0.0923},{"time":21.75,"temp":21.25,"sg":0.0937},{"time":22.25,"temp":21.25,"sg":0.0951},{"time":22.75,"temp":21.25,"sg":0.0964},{"time":23.25,"temp":21.25,"sg":0.0977},{"time":23.75,"temp":21.25,"sg":0.0989},{"time":24.25,"temp":21.25,"sg":0.1000},{"time":24.75,"temp":21.25,"sg":0.1011},{"time":25.25,"temp":21.25,"sg":0.1021},{"time":25.75,"temp":21.25,"sg":0.1031},{"time":26.25,"temp":21.25,"sg":0.1040},{"time":26.75,"temp":21.25,"sg":0.1048},{"time":27.25,"temp":21.25,"sg":0.1056},{"time":27.75,"temp":21.25,"sg":0.1063},{"time":28.25,"temp":21.25,"sg":0.1070},{"time":28.75,"temp":21.25,"sg":0.1076},{"time":29.25,"temp":21.25,"sg":0.1082},{"time":29.75,"temp":21.25,"sg":0.1086},{"time":30.25,"temp":21.25,"sg":0.1091},{"time":30.75,"temp":21.25,"sg":0.1094},{"time":31.25,"temp":21.25,"sg":0.1097},{"time":31.75,"temp":21.25,"sg":0.1100},{"time":32.25,"temp":21.25,"sg":0.1102},{"time":32.75,"temp":21.25,"sg":0.1103},{"time":33.25,"temp":21.25,"sg":0.1104},{"time":33.75,"temp":21.25,"sg":0.1104},{"time":34.25,"temp":21.25,"sg":0.1104},{"time":34.75,"temp":21.25,"sg":0.1102},{"time":35.25,"temp":21.25,"sg":0.1101},{"time":35.75,"temp":21.25,"sg":0.1099},{"time":36.25,"temp":21.25,"sg":0.1096},{"time":36.75,"temp":21.25,"sg":0.1092},{"time":37.25,"temp":21.25,"sg":0.1088},{"time":37.75,"temp":21.25,"sg":0.1084},{"time":38.25,"temp":21.25,"sg":0.1078},{"time":38.75,"temp":21.25,"sg":0.1073},{"time":39.25,"temp":21.25,"sg":0.1066},{"time":39.75,"temp":21.25,"sg":0.1059},
{"time":20.25,"temp":21.75,"sg":0.0891},{"time":20.75,"temp":21.75,"sg":0.0906},{"time":21.25,"temp":21.75,"sg":0.0921},{"time":21.75,"temp":21.75,"sg":0.0936},{"time":22.25,"temp":21.75,"sg":0.0950},{"time":22.75,"temp":21.75,"sg":0.0963},{"time":23.25,"temp":21.75,"sg":0.0976},{"time":23.75,"temp":21.75,"sg":0.0988},{"time":24.25,"temp":21.75,"sg":0.0999},{"time":24.75,"temp":21.75,"sg":0.1010},{"time":25.25,"temp":21.75,"sg":0.1021},{"time":25.75,"temp":21.75,"sg":0.1030},{"time":26.25,"temp":21.75,"sg":0.1039},{"time":26.75,"temp":21.75,"sg":0.1048},{"time":27.25,"temp":21.75,"sg":0.1056},{"time":27.75,"temp":21.75,"sg":0.1063},{"time":28.25,"temp":21.75,"sg":0.1070},{"time":28.75,"temp":21.75,"sg":0.1076},{"time":29.25,"temp":21.75,"sg":0.1082},{"time":29.75,"temp":21.75,"sg":0.1087},{"time":30.25,"temp":21.75,"sg":0.1091},{"time":30.75,"temp":21.75,"sg":0.1095},{"time":31.25,"temp":21.75,"sg":0.1098},{"time":31.75,"temp":21.75,"sg":0.1101},{"time":32.25,"temp":21.75,"sg":0.1103},{"time":32.75,"temp":21.75,"sg":0.1104},{"time":33.25,"temp":21.75,"sg":0.1105},{"time":33.75,"temp":21.75,"sg":0.1105},{"time":34.25,"temp":21.75,"sg":0.1105},{"time":34.75,"temp":21.75,"sg":0.1104},{"time":35.25,"temp":21.75,"sg":0.1103},{"time":35.75,"temp":21.75,"sg":0.1101},{"time":36.25,"temp":21.75,"sg":0.1098},{"time":36.75,"temp":21.75,"sg":0.1095},{"time":37.25,"temp":21.75,"sg":0.1091},{"time":37.75,"temp":21.75,"sg":0.1086},{"time":38.25,"temp":21.75,"sg":0.1081},{"time":38.75,"temp":21.75,"sg":0.1075},{"time":39.25,"temp":21.75,"sg":0.1069},{"time":39.75,"temp":21.75,"sg":0.1062},
{"time":20.25,"temp":22.25,"sg":0.0888},{"time":20.75,"temp":22.25,"sg":0.0904},{"time":21.25,"temp":22.25,"sg":0.0919},{"time":21.75,"temp":22.25,"sg":0.0934},{"time":22.25,"temp":22.25,"sg":0.0948},{"time":22.75,"temp":22.25,"sg":0.0961},{"time":23.25,"temp":22.25,"sg":0.0974},{"time":23.75,"temp":22.25,"sg":0.0986},{"time":24.25,"temp":22.25,"sg":0.0998},{"time":24.75,"temp":22.25,"sg":0.1009},{"time":25.25,"temp":22.25,"sg":0.1019},{"time":25.75,"temp":22.25,"sg":0.1029},{"time":26.25,"temp":22.25,"sg":0.1038},{"time":26.75,"temp":22.25,"sg":0.1047},{"time":27.25,"temp":22.25,"sg":0.1055},{"time":27.75,"temp":22.25,"sg":0.1063},{"time":28.25,"temp":22.25,"sg":0.1070},{"time":28.75,"temp":22.25,"sg":0.1076},{"time":29.25,"temp":22.25,"sg":0.1082},{"time":29.75,"temp":22.25,"sg":0.1087},{"time":30.25,"temp":22.25,"sg":0.1091},{"time":30.75,"temp":22.25,"sg":0.1095},{"time":31.25,"temp":22.25,"sg":0.1098},{"time":31.75,"temp":22.25,"sg":0.1101},{"time":32.25,"temp":22.25,"sg":0.1103},{"time":32.75,"temp":22.25,"sg":0.1105},{"time":33.25,"temp":22.25,"sg":0.1106},{"time":33.75,"temp":22.25,"sg":0.1106},{"time":34.25,"temp":22.25,"sg":0.1106},{"time":34.75,"temp":22.25,"sg":0.1105},{"time":35.25,"temp":22.25,"sg":0.1104},{"time":35.75,"temp":22.25,"sg":0.1102},{"time":36.25,"temp":22.25,"sg":0.1099},{"time":36.75,"temp":22.25,"sg":0.1096},{"time":37.25,"temp":22.25,"sg":0.1092},{"time":37.75,"temp":22.25,"sg":0.1088},{"time":38.25,"temp":22.25,"sg":0.1083},{"time":38.75,"temp":22.25,"sg":0.1078},{"time":39.25,"temp":22.25,"sg":0.1072},{"time":39.75,"temp":22.25,"sg":0.1065},
{"time":20.25,"temp":22.75,"sg":0.0885},{"time":20.75,"temp":22.75,"sg":0.0901},{"time":21.25,"temp":22.75,"sg":0.0916},{"time":21.75,"temp":22.75,"sg":0.0931},{"time":22.25,"temp":22.75,"sg":0.0945},{"time":22.75,"temp":22.75,"sg":0.0958},{"time":23.25,"temp":22.75,"sg":0.0971},{"time":23.75,"temp":22.75,"sg":0.0984},{"time":24.25,"temp":22.75,"sg":0.0996},{"time":24.75,"temp":22.75,"sg":0.1007},{"time":25.25,"temp":22.75,"sg":0.1017},{"time":25.75,"temp":22.75,"sg":0.1027},{"time":26.25,"temp":22.75,"sg":0.1037},{"time":26.75,"temp":22.75,"sg":0.1045},{"time":27.25,"temp":22.75,"sg":0.1054},{"time":27.75,"temp":22.75,"sg":0.1061},{"time":28.25,"temp":22.75,"sg":0.1068},{"time":28.75,"temp":22.75,"sg":0.1075},{"time":29.25,"temp":22.75,"sg":0.1081},{"time":29.75,"temp":22.75,"sg":0.1086},{"time":30.25,"temp":22.75,"sg":0.1091},{"time":30.75,"temp":22.75,"sg":0.1095},{"time":31.25,"temp":22.75,"sg":0.1098},{"time":31.75,"temp":22.75,"sg":0.1101},{"time":32.25,"temp":22.75,"sg":0.1103},{"time":32.75,"temp":22.75,"sg":0.1105},{"time":33.25,"temp":22.75,"sg":0.1106},{"time":33.75,"temp":22.75,"sg":0.1107},{"time":34.25,"temp":22.75,"sg":0.1107},{"time":34.75,"temp":22.75,"sg":0.1106},{"time":35.25,"temp":22.75,"sg":0.1105},{"time":35.75,"temp":22.75,"sg":0.1103},{"time":36.25,"temp":22.75,"sg":0.1100},{"time":36.75,"temp":22.75,"sg":0.1097},{"time":37.25,"temp":22.75,"sg":0.1094},{"time":37.75,"temp":22.75,"sg":0.1090},{"time":38.25,"temp":22.75,"sg":0.1085},{"time":38.75,"temp":22.75,"sg":0.1079},{"time":39.25,"temp":22.75,"sg":0.1073},{"time":39.75,"temp":22.75,"sg":0.1067},
{"time":20.25,"temp":23.25,"sg":0.0881},{"time":20.75,"temp":23.25,"sg":0.0897},{"time":21.25,"temp":23.25,"sg":0.0912},{"time":21.75,"temp":23.25,"sg":0.0927},{"time":22.25,"temp":23.25,"sg":0.0942},{"time":22.75,"temp":23.25,"sg":0.0955},{"time":23.25,"temp":23.25,"sg":0.0968},{"time":23.75,"temp":23.25,"sg":0.0981},{"time":24.25,"temp":23.25,"sg":0.0993},{"time":24.75,"temp":23.25,"sg":0.1004},{"time":25.25,"temp":23.25,"sg":0.1015},{"time":25.75,"temp":23.25,"sg":0.1025},{"time":26.25,"temp":23.25,"sg":0.1034},{"time":26.75,"temp":23.25,"sg":0.1043},{"time":27.25,"temp":23.25,"sg":0.1052},{"time":27.75,"temp":23.25,"sg":0.1059},{"time":28.25,"temp":23.25,"sg":0.1067},{"time":28.75,"temp":23.25,"sg":0.1073},{"time":29.25,"temp":23.25,"sg":0.1079},{"time":29.75,"temp":23.25,"sg":0.1085},{"time":30.25,"temp":23.25,"sg":0.1089},{"time":30.75,"temp":23.25,"sg":0.1094},{"time":31.25,"temp":23.25,"sg":0.1097},{"time":31.75,"temp":23.25,"sg":0.1100},{"time":32.25,"temp":23.25,"sg":0.1103},{"time":32.75,"temp":23.25,"sg":0.1104},{"time":33.25,"temp":23.25,"sg":0.1106},{"time":33.75,"temp":23.25,"sg":0.1106},{"time":34.25,"temp":23.25,"sg":0.1106},{"time":34.75,"temp":23.25,"sg":0.1106},{"time":35.25,"temp":23.25,"sg":0.1105},{"time":35.75,"temp":23.25,"sg":0.1103},{"time":36.25,"temp":23.25,"sg":0.1101},{"time":36.75,"temp":23.25,"sg":0.1098},{"time":37.25,"temp":23.25,"sg":0.1094},{"time":37.75,"temp":23.25,"sg":0.1090},{"time":38.25,"temp":23.25,"sg":0.1086},{"time":38.75,"temp":23.25,"sg":0.1080},{"time":39.25,"temp":23.25,"sg":0.1074},{"time":39.75,"temp":23.25,"sg":0.1068},
{"time":20.25,"temp":23.75,"sg":0.0877},{"time":20.75,"temp":23.75,"sg":0.0893},{"time":21.25,"temp":23.75,"sg":0.0908},{"time":21.75,"temp":23.75,"sg":0.0923},{"time":22.25,"temp":23.75,"sg":0.0938},{"time":22.75,"temp":23.75,"sg":0.0951},{"time":23.25,"temp":23.75,"sg":0.0965},{"time":23.75,"temp":23.75,"sg":0.0977},{"time":24.25,"temp":23.75,"sg":0.0989},{"time":24.75,"temp":23.75,"sg":0.1001},{"time":25.25,"temp":23.75,"sg":0.1012},{"time":25.75,"temp":23.75,"sg":0.1022},{"time":26.25,"temp":23.75,"sg":0.1032},{"time":26.75,"temp":23.75,"sg":0.1041},{"time":27.25,"temp":23.75,"sg":0.1049},{"time":27.75,"temp":23.75,"sg":0.1057},{"time":28.25,"temp":23.75,"sg":0.1064},{"time":28.75,"temp":23.75,"sg":0.1071},{"time":29.25,"temp":23.75,"sg":0.1077},{"time":29.75,"temp":23.75,"sg":0.1083},{"time":30.25,"temp":23.75,"sg":0.1088},{"time":30.75,"temp":23.75,"sg":0.1092},{"time":31.25,"temp":23.75,"sg":0.1096},{"time":31.75,"temp":23.75,"sg":0.1099},{"time":32.25,"temp":23.75,"sg":0.1101},{"time":32.75,"temp":23.75,"sg":0.1103},{"time":33.25,"temp":23.75,"sg":0.1105},{"time":33.75,"temp":23.75,"sg":0.1105},{"time":34.25,"temp":23.75,"sg":0.1106},{"time":34.75,"temp":23.75,"sg":0.1105},{"time":35.25,"temp":23.75,"sg":0.1104},{"time":35.75,"temp":23.75,"sg":0.1103},{"time":36.25,"temp":23.75,"sg":0.1100},{"time":36.75,"temp":23.75,"sg":0.1098},{"time":37.25,"temp":23.75,"sg":0.1094},{"time":37.75,"temp":23.75,"sg":0.1090},{"time":38.25,"temp":23.75,"sg":0.1086},{"time":38.75,"temp":23.75,"sg":0.1081},{"time":39.25,"temp":23.75,"sg":0.1075},{"time":39.75,"temp":23.75,"sg":0.1069},
{"time":20.25,"temp":24.25,"sg":0.0872},{"time":20.75,"temp":24.25,"sg":0.0888},{"time":21.25,"temp":24.25,"sg":0.0904},{"time":21.75,"temp":24.25,"sg":0.0919},{"time":22.25,"temp":24.25,"sg":0.0933},{"time":22.75,"temp":24.25,"sg":0.0947},{"time":23.25,"temp":24.25,"sg":0.0961},{"time":23.75,"temp":24.25,"sg":0.0973},{"time":24.25,"temp":24.25,"sg":0.0985},{"time":24.75,"temp":24.25,"sg":0.0997},{"time":25.25,"temp":24.25,"sg":0.1008},{"time":25.75,"temp":24.25,"sg":0.1018},{"time":26.25,"temp":24.25,"sg":0.1028},{"time":26.75,"temp":24.25,"sg":0.1037},{"time":27.25,"temp":24.25,"sg":0.1046},{"time":27.75,"temp":24.25,"sg":0.1054},{"time":28.25,"temp":24.25,"sg":0.1061},{"time":28.75,"temp":24.25,"sg":0.1068},{"time":29.25,"temp":24.25,"sg":0.1074},{"time":29.75,"temp":24.25,"sg":0.1080},{"time":30.25,"temp":24.25,"sg":0.1085},{"time":30.75,"temp":24.25,"sg":0.1090},{"time":31.25,"temp":24.25,"sg":0.1094},{"time":31.75,"temp":24.25,"sg":0.1097},{"time":32.25,"temp":24.25,"sg":0.1100},{"time":32.75,"temp":24.25,"sg":0.1102},{"time":33.25,"temp":24.25,"sg":0.1103},{"time":33.75,"temp":24.25,"sg":0.1104},{"time":34.25,"temp":24.25,"sg":0.1104},{"time":34.75,"temp":24.25,"sg":0.1104},{"time":35.25,"temp":24.25,"sg":0.1103},{"time":35.75,"temp":24.25,"sg":0.1102},{"time":36.25,"temp":24.25,"sg":0.1100},{"time":36.75,"temp":24.25,"sg":0.1097},{"time":37.25,"temp":24.25,"sg":0.1094},{"time":37.75,"temp":24.25,"sg":0.1090},{"time":38.25,"temp":24.25,"sg":0.1086},{"time":38.75,"temp":24.25,"sg":0.1081},{"time":39.25,"temp":24.25,"sg":0.1075},{"time":39.75,"temp":24.25,"sg":0.1069},
{"time":20.25,"temp":24.75,"sg":0.0866},{"time":20.75,"temp":24.75,"sg":0.0882},{"time":21.25,"temp":24.75,"sg":0.0898},{"time":21.75,"temp":24.75,"sg":0.0913},{"time":22.25,"temp":24.75,"sg":0.0928},{"time":22.75,"temp":24.75,"sg":0.0942},{"time":23.25,"temp":24.75,"sg":0.0956},{"time":23.75,"temp":24.75,"sg":0.0969},{"time":24.25,"temp":24.75,"sg":0.0981},{"time":24.75,"temp":24.75,"sg":0.0993},{"time":25.25,"temp":24.75,"sg":0.1004},{"time":25.75,"temp":24.75,"sg":0.1014},{"time":26.25,"temp":24.75,"sg":0.1024},{"time":26.75,"temp":24.75,"sg":0.1033},{"time":27.25,"temp":24.75,"sg":0.1042},{"time":27.75,"temp":24.75,"sg":0.1050},{"time":28.25,"temp":24.75,"sg":0.1058},{"time":28.75,"temp":24.75,"sg":0.1065},{"time":29.25,"temp":24.75,"sg":0.1071},{"time":29.75,"temp":24.75,"sg":0.1077},{"time":30.25,"temp":24.75,"sg":0.1082},{"time":30.75,"temp":24.75,"sg":0.1087},{"time":31.25,"temp":24.75,"sg":0.1091},{"time":31.75,"temp":24.75,"sg":0.1094},{"time":32.25,"temp":24.75,"sg":0.1097},{"time":32.75,"temp":24.75,"sg":0.1099},{"time":33.25,"temp":24.75,"sg":0.1101},{"time":33.75,"temp":24.75,"sg":0.1102},{"time":34.25,"temp":24.75,"sg":0.1102},{"time":34.75,"temp":24.75,"sg":0.1102},{"time":35.25,"temp":24.75,"sg":0.1102},{"time":35.75,"temp":24.75,"sg":0.1100},{"time":36.25,"temp":24.75,"sg":0.1098},{"time":36.75,"temp":24.75,"sg":0.1096},{"time":37.25,"temp":24.75,"sg":0.1093},{"time":37.75,"temp":24.75,"sg":0.1089},{"time":38.25,"temp":24.75,"sg":0.1085},{"time":38.75,"temp":24.75,"sg":0.1080},{"time":39.25,"temp":24.75,"sg":0.1074},{"time":39.75,"temp":24.75,"sg":0.1068},
{"time":20.25,"temp":25.25,"sg":0.0860},{"time":20.75,"temp":25.25,"sg":0.0876},{"time":21.25,"temp":25.25,"sg":0.0892},{"time":21.75,"temp":25.25,"sg":0.0908},{"time":22.25,"temp":25.25,"sg":0.0922},{"time":22.75,"temp":25.25,"sg":0.0937},{"time":23.25,"temp":25.25,"sg":0.0950},{"time":23.75,"temp":25.25,"sg":0.0963},{"time":24.25,"temp":25.25,"sg":0.0976},{"time":24.75,"temp":25.25,"sg":0.0988},{"time":25.25,"temp":25.25,"sg":0.0999},{"time":25.75,"temp":25.25,"sg":0.1009},{"time":26.25,"temp":25.25,"sg":0.1020},{"time":26.75,"temp":25.25,"sg":0.1029},{"time":27.25,"temp":25.25,"sg":0.1038},{"time":27.75,"temp":25.25,"sg":0.1046},{"time":28.25,"temp":25.25,"sg":0.1054},{"time":28.75,"temp":25.25,"sg":0.1061},{"time":29.25,"temp":25.25,"sg":0.1067},{"time":29.75,"temp":25.25,"sg":0.1073},{"time":30.25,"temp":25.25,"sg":0.1079},{"time":30.75,"temp":25.25,"sg":0.1083},{"time":31.25,"temp":25.25,"sg":0.1087},{"time":31.75,"temp":25.25,"sg":0.1091},{"time":32.25,"temp":25.25,"sg":0.1094},{"time":32.75,"temp":25.25,"sg":0.1096},{"time":33.25,"temp":25.25,"sg":0.1098},{"time":33.75,"temp":25.25,"sg":0.1099},{"time":34.25,"temp":25.25,"sg":0.1100},{"time":34.75,"temp":25.25,"sg":0.1100},{"time":35.25,"temp":25.25,"sg":0.1099},{"time":35.75,"temp":25.25,"sg":0.1098},{"time":36.25,"temp":25.25,"sg":0.1096},{"time":36.75,"temp":25.25,"sg":0.1094},{"time":37.25,"temp":25.25,"sg":0.1091},{"time":37.75,"temp":25.25,"sg":0.1087},{"time":38.25,"temp":25.25,"sg":0.1083},{"time":38.75,"temp":25.25,"sg":0.1078},{"time":39.25,"temp":25.25,"sg":0.1073},{"time":39.75,"temp":25.25,"sg":0.1067},
{"time":20.25,"temp":25.75,"sg":0.0853},{"time":20.75,"temp":25.75,"sg":0.0870},{"time":21.25,"temp":25.75,"sg":0.0886},{"time":21.75,"temp":25.75,"sg":0.0901},{"time":22.25,"temp":25.75,"sg":0.0916},{"time":22.75,"temp":25.75,"sg":0.0931},{"time":23.25,"temp":25.75,"sg":0.0944},{"time":23.75,"temp":25.75,"sg":0.0957},{"time":24.25,"temp":25.75,"sg":0.0970},{"time":24.75,"temp":25.75,"sg":0.0982},{"time":25.25,"temp":25.75,"sg":0.0993},{"time":25.75,"temp":25.75,"sg":0.1004},{"time":26.25,"temp":25.75,"sg":0.1014},{"time":26.75,"temp":25.75,"sg":0.1024},{"time":27.25,"temp":25.75,"sg":0.1033},{"time":27.75,"temp":25.75,"sg":0.1041},{"time":28.25,"temp":25.75,"sg":0.1049},{"time":28.75,"temp":25.75,"sg":0.1056},{"time":29.25,"temp":25.75,"sg":0.1063},{"time":29.75,"temp":25.75,"sg":0.1069},{"time":30.25,"temp":25.75,"sg":0.1074},{"time":30.75,"temp":25.75,"sg":0.1079},{"time":31.25,"temp":25.75,"sg":0.1084},{"time":31.75,"temp":25.75,"sg":0.1087},{"time":32.25,"temp":25.75,"sg":0.1090},{"time":32.75,"temp":25.75,"sg":0.1093},{"time":33.25,"temp":25.75,"sg":0.1095},{"time":33.75,"temp":25.75,"sg":0.1096},{"time":34.25,"temp":25.75,"sg":0.1097},{"time":34.75,"temp":25.75,"sg":0.1097},{"time":35.25,"temp":25.75,"sg":0.1096},{"time":35.75,"temp":25.75,"sg":0.1095},{"time":36.25,"temp":25.75,"sg":0.1094},{"time":36.75,"temp":25.75,"sg":0.1091},{"time":37.25,"temp":25.75,"sg":0.1089},{"time":37.75,"temp":25.75,"sg":0.1085},{"time":38.25,"temp":25.75,"sg":0.1081},{"time":38.75,"temp":25.75,"sg":0.1077},{"time":39.25,"temp":25.75,"sg":0.1071},{"time":39.75,"temp":25.75,"sg":0.1065},
{"time":20.25,"temp":26.25,"sg":0.0846},{"time":20.75,"temp":26.25,"sg":0.0862},{"time":21.25,"temp":26.25,"sg":0.0879},{"time":21.75,"temp":26.25,"sg":0.0894},{"time":22.25,"temp":26.25,"sg":0.0909},{"time":22.75,"temp":26.25,"sg":0.0924},{"time":23.25,"temp":26.25,"sg":0.0938},{"time":23.75,"temp":26.25,"sg":0.0951},{"time":24.25,"temp":26.25,"sg":0.0964},{"time":24.75,"temp":26.25,"sg":0.0976},{"time":25.25,"temp":26.25,"sg":0.0987},{"time":25.75,"temp":26.25,"sg":0.0998},{"time":26.25,"temp":26.25,"sg":0.1008},{"time":26.75,"temp":26.25,"sg":0.1018},{"time":27.25,"temp":26.25,"sg":0.1027},{"time":27.75,"temp":26.25,"sg":0.1036},{"time":28.25,"temp":26.25,"sg":0.1044},{"time":28.75,"temp":26.25,"sg":0.1051},{"time":29.25,"temp":26.25,"sg":0.1058},{"time":29.75,"temp":26.25,"sg":0.1064},{"time":30.25,"temp":26.25,"sg":0.1070},{"time":30.75,"temp":26.25,"sg":0.1075},{"time":31.25,"temp":26.25,"sg":0.1079},{"time":31.75,"temp":26.25,"sg":0.1083},{"time":32.25,"temp":26.25,"sg":0.1086},{"time":32.75,"temp":26.25,"sg":0.1089},{"time":33.25,"temp":26.25,"sg":0.1091},{"time":33.75,"temp":26.25,"sg":0.1092},{"time":34.25,"temp":26.25,"sg":0.1093},{"time":34.75,"temp":26.25,"sg":0.1093},{"time":35.25,"temp":26.25,"sg":0.1093},{"time":35.75,"temp":26.25,"sg":0.1092},{"time":36.25,"temp":26.25,"sg":0.1090},{"time":36.75,"temp":26.25,"sg":0.1088},{"time":37.25,"temp":26.25,"sg":0.1086},{"time":37.75,"temp":26.25,"sg":0.1082},{"time":38.25,"temp":26.25,"sg":0.1078},{"time":38.75,"temp":26.25,"sg":0.1074},{"time":39.25,"temp":26.25,"sg":0.1069},{"time":39.75,"temp":26.25,"sg":0.1063},
{"time":20.25,"temp":26.75,"sg":0.0838},{"time":20.75,"temp":26.75,"sg":0.0855},{"time":21.25,"temp":26.75,"sg":0.0871},{"time":21.75,"temp":26.75,"sg":0.0887},{"time":22.25,"temp":26.75,"sg":0.0902},{"time":22.75,"temp":26.75,"sg":0.0917},{"time":23.25,"temp":26.75,"sg":0.0931},{"time":23.75,"temp":26.75,"sg":0.0944},{"time":24.25,"temp":26.75,"sg":0.0957},{"time":24.75,"temp":26.75,"sg":0.0969},{"time":25.25,"temp":26.75,"sg":0.0981},{"time":25.75,"temp":26.75,"sg":0.0992},{"time":26.25,"temp":26.75,"sg":0.1002},{"time":26.75,"temp":26.75,"sg":0.1012},{"time":27.25,"temp":26.75,"sg":0.1021},{"time":27.75,"temp":26.75,"sg":0.1030},{"time":28.25,"temp":26.75,"sg":0.1038},{"time":28.75,"temp":26.75,"sg":0.1045},{"time":29.25,"temp":26.75,"sg":0.1052},{"time":29.75,"temp":26.75,"sg":0.1059},{"time":30.25,"temp":26.75,"sg":0.1064},{"time":30.75,"temp":26.75,"sg":0.1069},{"time":31.25,"temp":26.75,"sg":0.1074},{"time":31.75,"temp":26.75,"sg":0.1078},{"time":32.25,"temp":26.75,"sg":0.1081},{"time":32.75,"temp":26.75,"sg":0.1084},{"time":33.25,"temp":26.75,"sg":0.1086},{"time":33.75,"temp":26.75,"sg":0.1088},{"time":34.25,"temp":26.75,"sg":0.1089},{"time":34.75,"temp":26.75,"sg":0.1089},{"time":35.25,"temp":26.75,"sg":0.1089},{"time":35.75,"temp":26.75,"sg":0.1088},{"time":36.25,"temp":26.75,"sg":0.1087},{"time":36.75,"temp":26.75,"sg":0.1085},{"time":37.25,"temp":26.75,"sg":0.1082},{"time":37.75,"temp":26.75,"sg":0.1079},{"time":38.25,"temp":26.75,"sg":0.1075},{"time":38.75,"temp":26.75,"sg":0.1071},{"time":39.25,"temp":26.75,"sg":0.1066},{"time":39.75,"temp":26.75,"sg":0.1060},
{"time":20.25,"temp":27.25,"sg":0.0829},{"time":20.75,"temp":27.25,"sg":0.0846},{"time":21.25,"temp":27.25,"sg":0.0863},{"time":21.75,"temp":27.25,"sg":0.0879},{"time":22.25,"temp":27.25,"sg":0.0894},{"time":22.75,"temp":27.25,"sg":0.0909},{"time":23.25,"temp":27.25,"sg":0.0923},{"time":23.75,"temp":27.25,"sg":0.0936},{"time":24.25,"temp":27.25,"sg":0.0949},{"time":24.75,"temp":27.25,"sg":0.0962},{"time":25.25,"temp":27.25,"sg":0.0973},{"time":25.75,"temp":27.25,"sg":0.0985},{"time":26.25,"temp":27.25,"sg":0.0995},{"time":26.75,"temp":27.25,"sg":0.1005},{"time":27.25,"temp":27.25,"sg":0.1014},{"time":27.75,"temp":27.25,"sg":0.1023},{"time":28.25,"temp":27.25,"sg":0.1032},{"time":28.75,"temp":27.25,"sg":0.1039},{"time":29.25,"temp":27.25,"sg":0.1046},{"time":29.75,"temp":27.25,"sg":0.1053},{"time":30.25,"temp":27.25,"sg":0.1058},{"time":30.75,"temp":27.25,"sg":0.1064},{"time":31.25,"temp":27.25,"sg":0.1068},{"time":31.75,"temp":27.25,"sg":0.1072},{"time":32.25,"temp":27.25,"sg":0.1076},{"time":32.75,"temp":27.25,"sg":0.1079},{"time":33.25,"temp":27.25,"sg":0.1081},{"time":33.75,"temp":27.25,"sg":0.1083},{"time":34.25,"temp":27.25,"sg":0.1084},{"time":34.75,"temp":27.25,"sg":0.1084},{"time":35.25,"temp":27.25,"sg":0.1084},{"time":35.75,"temp":27.25,"sg":0.1084},{"time":36.25,"temp":27.25,"sg":0.1082},{"time":36.75,"temp":27.25,"sg":0.1080},{"time":37.25,"temp":27.25,"sg":0.1078},{"time":37.75,"temp":27.25,"sg":0.1075},{"time":38.25,"temp":27.25,"sg":0.1071},{"time":38.75,"temp":27.25,"sg":0.1067},{"time":39.25,"temp":27.25,"sg":0.1062},{"time":39.75,"temp":27.25,"sg":0.1057},
{"time":20.25,"temp":27.75,"sg":0.0820},{"time":20.75,"temp":27.75,"sg":0.0837},{"time":21.25,"temp":27.75,"sg":0.0854},{"time":21.75,"temp":27.75,"sg":0.0870},{"time":22.25,"temp":27.75,"sg":0.0885},{"time":22.75,"temp":27.75,"sg":0.0900},{"time":23.25,"temp":27.75,"sg":0.0914},{"time":23.75,"temp":27.75,"sg":0.0928},{"time":24.25,"temp":27.75,"sg":0.0941},{"time":24.75,"temp":27.75,"sg":0.0954},{"time":25.25,"temp":27.75,"sg":0.0966},{"time":25.75,"temp":27.75,"sg":0.0977},{"time":26.25,"temp":27.75,"sg":0.0988},{"time":26.75,"temp":27.75,"sg":0.0998},{"time":27.25,"temp":27.75,"sg":0.1007},{"time":27.75,"temp":27.75,"sg":0.1016},{"time":28.25,"temp":27.75,"sg":0.1024},{"time":28.75,"temp":27.75,"sg":0.1032},{"time":29.25,"temp":27.75,"sg":0.1039},{"time":29.75,"temp":27.75,"sg":0.1046},{"time":30.25,"temp":27.75,"sg":0.1052},{"time":30.75,"temp":27.75,"sg":0.1057},{"time":31.25,"temp":27.75,"sg":0.1062},{"time":31.75,"temp":27.75,"sg":0.1066},{"time":32.25,"temp":27.75,"sg":0.1070},{"time":32.75,"temp":27.75,"sg":0.1073},{"time":33.25,"temp":27.75,"sg":0.1075},{"time":33.75,"temp":27.75,"sg":0.1077},{"time":34.25,"temp":27.75,"sg":0.1078},{"time":34.75,"temp":27.75,"sg":0.1079},{"time":35.25,"temp":27.75,"sg":0.1079},{"time":35.75,"temp":27.75,"sg":0.1078},{"time":36.25,"temp":27.75,"sg":0.1077},{"time":36.75,"temp":27.75,"sg":0.1076},{"time":37.25,"temp":27.75,"sg":0.1073},{"time":37.75,"temp":27.75,"sg":0.1070},{"time":38.25,"temp":27.75,"sg":0.1067},{"time":38.75,"temp":27.75,"sg":0.1063},{"time":39.25,"temp":27.75,"sg":0.1058},{"time":39.75,"temp":27.75,"sg":0.1053},
{"time":20.25,"temp":28.25,"sg":0.0810},{"time":20.75,"temp":28.25,"sg":0.0828},{"time":21.25,"temp":28.25,"sg":0.0844},{"time":21.75,"temp":28.25,"sg":0.0860},{"time":22.25,"temp":28.25,"sg":0.0876},{"time":22.75,"temp":28.25,"sg":0.0891},{"time":23.25,"temp":28.25,"sg":0.0905},{"time":23.75,"temp":28.25,"sg":0.0919},{"time":24.25,"temp":28.25,"sg":0.0932},{"time":24.75,"temp":28.25,"sg":0.0945},{"time":25.25,"temp":28.25,"sg":0.0957},{"time":25.75,"temp":28.25,"sg":0.0969},{"time":26.25,"temp":28.25,"sg":0.0979},{"time":26.75,"temp":28.25,"sg":0.0990},{"time":27.25,"temp":28.25,"sg":0.0999},{"time":27.75,"temp":28.25,"sg":0.1008},{"time":28.25,"temp":28.25,"sg":0.1017},{"time":28.75,"temp":28.25,"sg":0.1025},{"time":29.25,"temp":28.25,"sg":0.1032},{"time":29.75,"temp":28.25,"sg":0.1039},{"time":30.25,"temp":28.25,"sg":0.1045},{"time":30.75,"temp":28.25,"sg":0.1050},{"time":31.25,"temp":28.25,"sg":0.1055},{"time":31.75,"temp":28.25,"sg":0.1060},{"time":32.25,"temp":28.25,"sg":0.1063},{"time":32.75,"temp":28.25,"sg":0.1066},{"time":33.25,"temp":28.25,"sg":0.1069},{"time":33.75,"temp":28.25,"sg":0.1071},{"time":34.25,"temp":28.25,"sg":0.1072},{"time":34.75,"temp":28.25,"sg":0.1073},{"time":35.25,"temp":28.25,"sg":0.1073},{"time":35.75,"temp":28.25,"sg":0.1073},{"time":36.25,"temp":28.25,"sg":0.1072},{"time":36.75,"temp":28.25,"sg":0.1070},{"time":37.25,"temp":28.25,"sg":0.1068},{"time":37.75,"temp":28.25,"sg":0.1065},{"time":38.25,"temp":28.25,"sg":0.1062},{"time":38.75,"temp":28.25,"sg":0.1058},{"time":39.25,"temp":28.25,"sg":0.1053},{"time":39.75,"temp":28.25,"sg":0.1048},
{"time":20.25,"temp":28.75,"sg":0.0800},{"time":20.75,"temp":28.75,"sg":0.0817},{"time":21.25,"temp":28.75,"sg":0.0834},{"time":21.75,"temp":28.75,"sg":0.0851},{"time":22.25,"temp":28.75,"sg":0.0866},{"time":22.75,"temp":28.75,"sg":0.0881},{"time":23.25,"temp":28.75,"sg":0.0896},{"time":23.75,"temp":28.75,"sg":0.0910},{"time":24.25,"temp":28.75,"sg":0.0923},{"time":24.75,"temp":28.75,"sg":0.0936},{"time":25.25,"temp":28.75,"sg":0.0948},{"time":25.75,"temp":28.75,"sg":0.0960},{"time":26.25,"temp":28.75,"sg":0.0971},{"time":26.75,"temp":28.75,"sg":0.0981},{"time":27.25,"temp":28.75,"sg":0.0991},{"time":27.75,"temp":28.75,"sg":0.1000},{"time":28.25,"temp":28.75,"sg":0.1009},{"time":28.75,"temp":28.75,"sg":0.1017},{"time":29.25,"temp":28.75,"sg":0.1024},{"time":29.75,"temp":28.75,"sg":0.1031},{"time":30.25,"temp":28.75,"sg":0.1037},{"time":30.75,"temp":28.75,"sg":0.1043},{"time":31.25,"temp":28.75,"sg":0.1048},{"time":31.75,"temp":28.75,"sg":0.1052},{"time":32.25,"temp":28.75,"sg":0.1056},{"time":32.75,"temp":28.75,"sg":0.1059},{"time":33.25,"temp":28.75,"sg":0.1062},{"time":33.75,"temp":28.75,"sg":0.1064},{"time":34.25,"temp":28.75,"sg":0.1066},{"time":34.75,"temp":28.75,"sg":0.1067},{"time":35.25,"temp":28.75,"sg":0.1067},{"time":35.75,"temp":28.75,"sg":0.1067},{"time":36.25,"temp":28.75,"sg":0.1066},{"time":36.75,"temp":28.75,"sg":0.1064},{"time":37.25,"temp":28.75,"sg":0.1062},{"time":37.75,"temp":28.75,"sg":0.1060},{"time":38.25,"temp":28.75,"sg":0.1056},{"time":38.75,"temp":28.75,"sg":0.1052},{"time":39.25,"temp":28.75,"sg":0.1048},{"time":39.75,"temp":28.75,"sg":0.1043},
{"time":20.25,"temp":29.25,"sg":0.0789},{"time":20.75,"temp":29.25,"sg":0.0807},{"time":21.25,"temp":29.25,"sg":0.0824},{"time":21.75,"temp":29.25,"sg":0.0840},{"time":22.25,"temp":29.25,"sg":0.0856},{"time":22.75,"temp":29.25,"sg":0.0871},{"time":23.25,"temp":29.25,"sg":0.0886},{"time":23.75,"temp":29.25,"sg":0.0900},{"time":24.25,"temp":29.25,"sg":0.0913},{"time":24.75,"temp":29.25,"sg":0.0926},{"time":25.25,"temp":29.25,"sg":0.0938},{"time":25.75,"temp":29.25,"sg":0.0950},{"time":26.25,"temp":29.25,"sg":0.0961},{"time":26.75,"temp":29.25,"sg":0.0972},{"time":27.25,"temp":29.25,"sg":0.0982},{"time":27.75,"temp":29.25,"sg":0.0991},{"time":28.25,"temp":29.25,"sg":0.1000},{"time":28.75,"temp":29.25,"sg":0.1008},{"time":29.25,"temp":29.25,"sg":0.1015},{"time":29.75,"temp":29.25,"sg":0.1022},{"time":30.25,"temp":29.25,"sg":0.1029},{"time":30.75,"temp":29.25,"sg":0.1035},{"time":31.25,"temp":29.25,"sg":0.1040},{"time":31.75,"temp":29.25,"sg":0.1044},{"time":32.25,"temp":29.25,"sg":0.1048},{"time":32.75,"temp":29.25,"sg":0.1052},{"time":33.25,"temp":29.25,"sg":0.1054},{"time":33.75,"temp":29.25,"sg":0.1057},{"time":34.25,"temp":29.25,"sg":0.1058},{"time":34.75,"temp":29.25,"sg":0.1059},{"time":35.25,"temp":29.25,"sg":0.1060},{"time":35.75,"temp":29.25,"sg":0.1060},{"time":36.25,"temp":29.25,"sg":0.1059},{"time":36.75,"temp":29.25,"sg":0.1058},{"time":37.25,"temp":29.25,"sg":0.1056},{"time":37.75,"temp":29.25,"sg":0.1053},{"time":38.25,"temp":29.25,"sg":0.1050},{"time":38.75,"temp":29.25,"sg":0.1046},{"time":39.25,"temp":29.25,"sg":0.1042},{"time":39.75,"temp":29.25,"sg":0.1037},
{"time":20.25,"temp":29.75,"sg":0.0777},{"time":20.75,"temp":29.75,"sg":0.0795},{"time":21.25,"temp":29.75,"sg":0.0812},{"time":21.75,"temp":29.75,"sg":0.0829},{"time":22.25,"temp":29.75,"sg":0.0845},{"time":22.75,"temp":29.75,"sg":0.0860},{"time":23.25,"temp":29.75,"sg":0.0875},{"time":23.75,"temp":29.75,"sg":0.0889},{"time":24.25,"temp":29.75,"sg":0.0903},{"time":24.75,"temp":29.75,"sg":0.0916},{"time":25.25,"temp":29.75,"sg":0.0928},{"time":25.75,"temp":29.75,"sg":0.0940},{"time":26.25,"temp":29.75,"sg":0.0951},{"time":26.75,"temp":29.75,"sg":0.0962},{"time":27.25,"temp":29.75,"sg":0.0972},{"time":27.75,"temp":29.75,"sg":0.0981},{"time":28.25,"temp":29.75,"sg":0.0990},{"time":28.75,"temp":29.75,"sg":0.0999},{"time":29.25,"temp":29.75,"sg":0.1006},{"time":29.75,"temp":29.75,"sg":0.1013},{"time":30.25,"temp":29.75,"sg":0.1020},{"time":30.75,"temp":29.75,"sg":0.1026},{"time":31.25,"temp":29.75,"sg":0.1031},{"time":31.75,"temp":29.75,"sg":0.1036},{"time":32.25,"temp":29.75,"sg":0.1040},{"time":32.75,"temp":29.75,"sg":0.1043},{"time":33.25,"temp":29.75,"sg":0.1046},{"time":33.75,"temp":29.75,"sg":0.1049},{"time":34.25,"temp":29.75,"sg":0.1050},{"time":34.75,"temp":29.75,"sg":0.1052},{"time":35.25,"temp":29.75,"sg":0.1052},{"time":35.75,"temp":29.75,"sg":0.1052},{"time":36.25,"temp":29.75,"sg":0.1052},{"time":36.75,"temp":29.75,"sg":0.1050},{"time":37.25,"temp":29.75,"sg":0.1049},{"time":37.75,"temp":29.75,"sg":0.1046},{"time":38.25,"temp":29.75,"sg":0.1043},{"time":38.75,"temp":29.75,"sg":0.1040},{"time":39.25,"temp":29.75,"sg":0.1036},{"time":39.75,"temp":29.75,"sg":0.1031}
],
"contours": [
{"seg":"c08a","i":0,"time":21.0,"temp":30.0},{"seg":"c08a","i":1,"time":20.5,"temp":29.25},{"seg":"c08a","i":2,"time":20.0,"temp":28.5},
{"seg":"c08b","i":0,"time":20.0,"temp":11.35},{"seg":"c08b","i":1,"time":20.4,"temp":10.9},{"seg":"c08b","i":2,"time":20.8,"temp":10.5},{"seg":"c08b","i":3,"time":21.3,"temp":10.0},
{"seg":"c09a","i":0,"time":24.2,"temp":30.0},{"seg":"c09a","i":1,"time":23.7,"temp":29.2},{"seg":"c09a","i":2,"time":23.2,"temp":28.2},{"seg":"c09a","i":3,"time":22.6,"temp":27.1},{"seg":"c09a","i":4,"time":22.1,"temp":26.1},{"seg":"c09a","i":5,"time":21.6,"temp":25.0},{"seg":"c09a","i":6,"time":21.2,"temp":24.0},{"seg":"c09a","i":7,"time":20.9,"temp":22.9},{"seg":"c09a","i":8,"time":20.7,"temp":21.8},{"seg":"c09a","i":9,"time":20.57,"temp":20.7},{"seg":"c09a","i":10,"time":20.55,"temp":19.7},{"seg":"c09a","i":11,"time":20.6,"temp":18.7},{"seg":"c09a","i":12,"time":20.7,"temp":17.7},{"seg":"c09a","i":13,"time":20.95,"temp":16.5},{"seg":"c09a","i":14,"time":21.25,"temp":15.5},{"seg":"c09a","i":15,"time":21.6,"temp":14.8},{"seg":"c09a","i":16,"time":22.1,"temp":14.2},{"seg":"c09a","i":17,"time":22.6,"temp":13.5},{"seg":"c09a","i":18,"time":23.2,"temp":12.8},{"seg":"c09a","i":19,"time":24.0,"temp":12.1},{"seg":"c09a","i":20,"time":24.9,"temp":11.4},{"seg":"c09a","i":21,"time":25.9,"temp":10.7},{"seg":"c09a","i":22,"time":27.0,"temp":10.0},
{"seg":"c09b","i":0,"time":35.7,"temp":10.0},{"seg":"c09b","i":1,"time":36.4,"temp":10.25},{"seg":"c09b","i":2,"time":37.0,"temp":10.55},{"seg":"c09b","i":3,"time":37.7,"temp":10.85},{"seg":"c09b","i":4,"time":38.3,"temp":11.2},{"seg":"c09b","i":5,"time":39.2,"temp":11.6},{"seg":"c09b","i":6,"time":40.0,"temp":12.05},
{"seg":"c10","i":0,"time":29.0,"temp":30.0},{"seg":"c10","i":1,"time":28.3,"temp":29.45},{"seg":"c10","i":2,"time":27.6,"temp":28.9},{"seg":"c10","i":3,"time":26.9,"temp":28.2},{"seg":"c10","i":4,"time":26.3,"temp":27.5},{"seg":"c10","i":5,"time":25.75,"temp":26.6},{"seg":"c10","i":6,"time":25.3,"temp":25.6},{"seg":"c10","i":7,"time":24.95,"temp":24.65},{"seg":"c10","i":8,"time":24.65,"temp":23.7},{"seg":"c10","i":9,"time":24.5,"temp":22.8},{"seg":"c10","i":10,"time":24.4,"temp":21.8},{"seg":"c10","i":11,"time":24.33,"temp":20.7},{"seg":"c10","i":12,"time":24.35,"temp":19.7},{"seg":"c10","i":13,"time":24.5,"temp":18.6},{"seg":"c10","i":14,"time":24.8,"temp":17.6},{"seg":"c10","i":15,"time":25.3,"temp":16.7},{"seg":"c10","i":16,"time":25.9,"temp":15.9},{"seg":"c10","i":17,"time":26.6,"temp":15.2},{"seg":"c10","i":18,"time":27.4,"temp":14.65},{"seg":"c10","i":19,"time":28.1,"temp":14.2},{"seg":"c10","i":20,"time":28.8,"temp":13.8},{"seg":"c10","i":21,"time":29.5,"temp":13.5},{"seg":"c10","i":22,"time":30.2,"temp":13.3},{"seg":"c10","i":23,"time":31.0,"temp":13.12},{"seg":"c10","i":24,"time":31.9,"temp":13.05},{"seg":"c10","i":25,"time":32.8,"temp":13.1},{"seg":"c10","i":26,"time":33.7,"temp":13.25},{"seg":"c10","i":27,"time":34.5,"temp":13.45},{"seg":"c10","i":28,"time":35.2,"temp":13.7},{"seg":"c10","i":29,"time":36.0,"temp":14.0},{"seg":"c10","i":30,"time":36.7,"temp":14.3},{"seg":"c10","i":31,"time":37.6,"temp":14.75},{"seg":"c10","i":32,"time":38.55,"temp":15.4},{"seg":"c10","i":33,"time":39.3,"temp":16.0},{"seg":"c10","i":34,"time":40.0,"temp":16.7},
{"seg":"c11","i":0,"time":34.38,"temp":25.43},{"seg":"c11","i":1,"time":35.6,"temp":25.15},{"seg":"c11","i":2,"time":36.2,"temp":24.6},{"seg":"c11","i":3,"time":36.49,"temp":23.95},{"seg":"c11","i":4,"time":36.45,"temp":23.0},{"seg":"c11","i":5,"time":36.15,"temp":21.97},{"seg":"c11","i":6,"time":35.6,"temp":21.2},{"seg":"c11","i":7,"time":34.88,"temp":20.57},{"seg":"c11","i":8,"time":34.0,"temp":20.3},{"seg":"c11","i":9,"time":33.19,"temp":20.23},{"seg":"c11","i":10,"time":32.4,"temp":20.55},{"seg":"c11","i":11,"time":31.8,"temp":21.12},{"seg":"c11","i":12,"time":31.5,"temp":21.85},{"seg":"c11","i":13,"time":31.37,"temp":22.68},{"seg":"c11","i":14,"time":31.55,"temp":23.5},{"seg":"c11","i":15,"time":31.92,"temp":24.25},{"seg":"c11","i":16,"time":32.35,"temp":24.75},{"seg":"c11","i":17,"time":32.9,"temp":25.1},{"seg":"c11","i":18,"time":33.6,"temp":25.38},{"seg":"c11","i":19,"time":34.38,"temp":25.43}
],
"labels": [
{"label":"0.09","time":20.7,"temp":18.15},
{"label":"0.1","time":25.85,"temp":16.3},
{"label":"0.11","time":32.65,"temp":20.7},
{"label":"0.09","time":38.2,"temp":11.4},
{"label":"0.08","time":20.85,"temp":10.8}
]
},
"encoding": {
"x": {"field": "time", "type": "quantitative", "scale": {"domain": [20, 40], "nice": false, "zero": false},
 "axis": {"values": [20, 25, 30, 35, 40], "title": "B: Time (min)", "tickSize": 11, "tickColor": "#9a9a9a", "domainColor": "#9a9a9a", "labelFont": "Open Sans", "labelFontSize": 24, "labelColor": "#404040", "labelPadding": 11, "labelFlush": false, "titleFont": "Liberation Serif", "titleFontSize": 22, "titleFontWeight": "bold", "titleColor": "#111111", "titlePadding": 7, "titleX": 244}},
"y": {"field": "temp", "type": "quantitative", "scale": {"domain": [10, 30], "nice": false, "zero": false},
 "axis": {"values": [10, 15, 20, 25, 30], "title": "C: Temperature (°C)", "tickSize": 11, "tickColor": "#9a9a9a", "domainColor": "#9a9a9a", "labelFont": "Open Sans", "labelFontSize": 24, "labelColor": "#404040", "labelPadding": 5, "labelBaseline": "alphabetic", "labelOffset": -6, "labelFlush": false, "titleFont": "Liberation Serif", "titleFontSize": 22, "titleFontWeight": "bold", "titleColor": "#111111", "titlePadding": 32, "titleY": 245}}
},
"layer": [
{"data": {"name": "grid"},
 "mark": {"type": "rect", "width": 12.3, "height": 12.3},
 "encoding": {"color": {"field": "sg", "type": "quantitative", "legend": null,
  "scale": {"domain": [0.078, 0.082, 0.086, 0.09, 0.0935, 0.096, 0.0985, 0.1005, 0.104, 0.107, 0.1105],
   "range": ["#3cd800", "#62df00", "#96e800", "#c8f000", "#ecfa00", "#ffff00", "#ffd800", "#ffb400", "#ffa000", "#ff8400", "#ff6400"], "interpolate": "rgb"}}}},
{"data": {"name": "contours"},
 "mark": {"type": "line", "interpolate": "catmull-rom", "stroke": "#2a2010", "strokeOpacity": 0.6, "strokeWidth": 1.4, "clip": true},
 "encoding": {"detail": {"field": "seg"}, "order": {"field": "i", "type": "quantitative"}}},
{"data": {"name": "labels"},
 "transform": [{"filter": "length(datum.label) > 3"}],
 "mark": {"type": "point", "shape": "M-1.45,-0.85H1.45V0.85H-1.45Z", "size": 400, "filled": true, "fill": "white", "stroke": "#8a8a8a", "strokeWidth": 1, "opacity": 1, "fillOpacity": 1},
 "encoding": {}},
{"data": {"name": "labels"},
 "transform": [{"filter": "length(datum.label) <= 3"}],
 "mark": {"type": "point", "shape": "M-1.2,-0.85H1.2V0.85H-1.2Z", "size": 400, "filled": true, "fill": "white", "stroke": "#8a8a8a", "strokeWidth": 1, "opacity": 1, "fillOpacity": 1},
 "encoding": {}},
{"data": {"name": "labels"},
 "mark": {"type": "text", "font": "Open Sans", "fontSize": 12, "fill": "#4d4d73", "align": "center", "baseline": "middle"},
 "encoding": {"text": {"field": "label"}}}
]
}
